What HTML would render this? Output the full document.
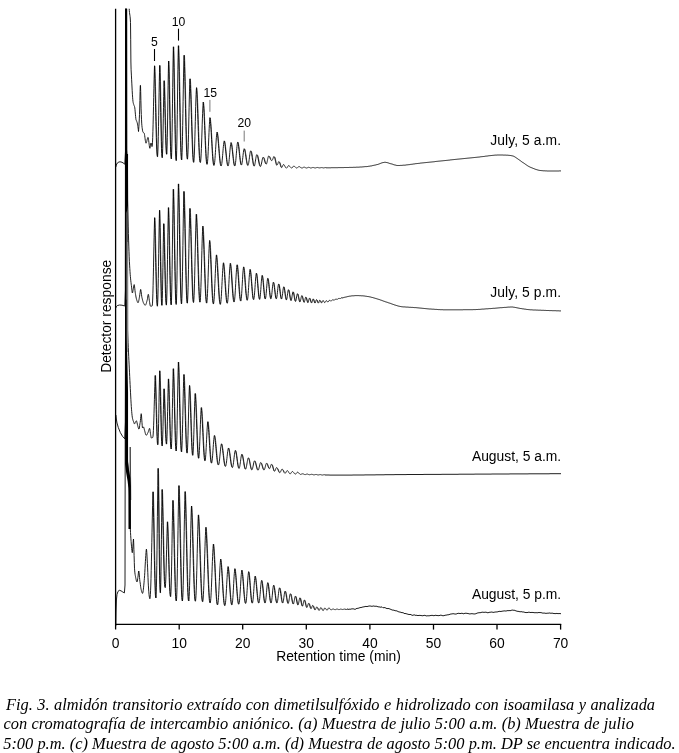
<!DOCTYPE html>
<html><head><meta charset="utf-8"><title>Fig. 3</title>
<style>
html,body{margin:0;padding:0;background:#fff;}
body{width:679px;height:753px;position:relative;overflow:hidden;}
svg{position:absolute;left:0;top:0;will-change:transform;}
.cap{position:absolute;left:0;top:0;width:679px;will-change:transform;font-family:"Liberation Serif",serif;font-style:italic;font-size:16.4px;color:#000;white-space:pre;}
.cap div{position:absolute;line-height:20px;height:20px;}
</style></head><body>
<svg width="679" height="753" viewBox="0 0 679 753">
<defs><clipPath id="c"><rect x="110" y="8.8" width="460" height="625"/></clipPath></defs>
<g clip-path="url(#c)" fill="none" stroke="#000" stroke-width="0.88" stroke-linejoin="round">
<polyline points="115.8,167.0 116.3,165.0 117.3,163.0 119.0,161.9 121.0,161.9 123.0,162.8 124.8,164.2 125.6,150.0 125.7,-30.0 126.6,-30.0 128.9,2.0 129.1,7.1 129.3,10.5 129.5,12.6 129.7,14.0 129.9,15.2 130.1,16.7 130.3,19.0 130.5,22.5 130.7,39.2 130.9,62.0 131.1,69.8 131.4,75.1 131.6,79.2 131.8,83.1 132.0,87.0 132.2,90.7 132.4,94.2 132.6,97.2 132.8,99.7 133.0,101.6 133.2,102.7 133.4,103.5 133.6,104.2 133.8,104.7 134.0,105.3 134.2,105.8 134.4,106.2 134.6,106.8 134.8,107.9 135.0,109.7 135.2,111.9 135.4,114.2 135.6,116.4 135.8,118.3 136.0,119.7 136.3,120.4 136.5,121.0 136.7,121.4 136.9,121.8 137.1,122.4 137.3,123.1 137.5,124.1 137.7,125.2 137.9,126.6 138.1,128.1 138.3,129.7 138.5,131.5 138.5,131.5 138.7,129.4 138.9,126.5 139.1,123.0 139.3,118.9 139.5,114.4 139.7,109.0 139.9,100.5 140.1,91.5 140.3,85.4 140.5,85.4 140.7,91.5 140.9,100.4 141.1,108.9 141.3,114.5 141.5,119.2 141.7,123.1 141.9,125.7 142.1,127.4 142.3,128.9 142.5,130.2 142.7,131.2 142.9,131.9 143.1,132.3 143.3,132.5 143.5,132.6 143.7,132.7 143.9,132.8 144.1,133.0 144.3,133.5 144.5,134.5 144.7,135.7 144.9,137.2 145.1,138.8 145.3,140.3 145.5,141.6 145.7,142.6 145.9,143.1 146.1,143.2 146.3,142.8 146.5,142.3 146.7,141.6 146.9,140.7 147.1,139.9 147.3,139.0 147.5,138.3 147.7,137.8 147.9,137.4 148.1,137.5 148.3,138.1 148.5,139.3 148.7,140.7 148.9,142.4 149.1,144.1 149.3,145.7 149.5,147.1 149.7,148.0 149.9,148.3 150.1,147.8 150.3,146.7 150.5,145.3 150.7,144.0 150.9,143.1 151.1,143.0 151.3,143.4 151.5,144.1 151.7,145.1 151.9,146.5 151.9,146.5 152.1,146.5 152.3,145.2 152.5,142.3 152.7,137.7 152.9,131.6 153.1,124.2 153.3,115.8 153.5,106.7 153.7,97.4 153.9,88.3 154.1,79.8 154.3,72.2 154.5,65.8 154.5,65.9 154.7,71.7 154.9,78.5 155.1,86.3 155.3,94.8 155.5,103.7 155.7,112.7 155.9,121.6 156.1,129.9 156.3,137.4 156.5,143.9 156.7,149.1 156.9,153.0 157.1,155.5 157.3,156.6 157.5,156.7 157.7,155.0 157.9,151.1 158.1,144.9 158.3,136.6 158.5,126.6 158.7,115.5 158.9,103.9 159.1,92.4 159.3,81.8 159.5,72.6 159.7,65.4 159.7,65.6 159.9,72.6 160.1,81.2 160.3,91.0 160.5,101.6 160.7,112.5 160.9,123.1 161.1,133.0 161.3,141.6 161.5,148.5 161.7,153.6 161.9,156.6 162.1,157.7 162.3,157.2 162.5,154.2 162.7,148.5 162.9,140.3 163.1,130.1 163.3,118.8 163.5,107.3 163.7,96.5 163.9,87.4 164.1,80.7 164.1,81.0 164.3,86.4 164.5,93.0 164.7,100.5 164.9,108.7 165.1,117.2 165.3,125.5 165.5,133.3 165.7,140.1 165.9,145.8 166.1,150.1 166.3,152.9 166.5,154.2 166.7,154.2 166.9,151.7 167.1,146.1 167.3,137.4 167.5,126.0 167.7,112.9 167.9,99.0 168.1,85.7 168.3,73.7 168.5,64.1 168.6,61.0 168.7,64.3 168.9,71.2 169.1,79.6 169.3,89.1 169.5,99.3 169.7,110.0 169.9,120.4 170.1,130.3 170.3,139.1 170.5,146.6 170.7,152.3 170.9,156.2 171.1,158.3 171.3,158.9 171.5,157.3 171.7,152.3 171.9,143.9 172.1,132.4 172.3,118.5 172.5,103.2 172.7,87.6 172.9,72.9 173.1,60.1 173.3,49.9 173.4,46.8 173.5,50.6 173.7,58.1 173.9,67.3 174.1,77.9 174.3,89.3 174.5,101.2 174.7,113.1 174.9,124.5 175.1,134.8 175.3,143.7 175.5,150.9 175.7,156.1 175.9,159.3 176.1,160.6 176.3,160.2 176.5,157.1 176.7,150.7 176.9,141.1 177.1,128.7 177.3,114.4 177.5,99.1 177.7,83.9 177.9,69.7 178.1,57.7 178.3,48.3 178.4,45.7 178.5,48.9 178.7,55.2 178.9,62.9 179.1,71.6 179.3,81.3 179.5,91.6 179.7,102.2 179.9,112.7 180.1,122.8 180.3,132.1 180.5,140.3 180.7,147.3 180.9,152.7 181.1,156.7 181.3,159.0 181.5,159.9 181.7,159.5 181.9,157.2 182.1,152.5 182.3,145.4 182.5,136.3 182.7,125.5 182.9,113.6 183.1,101.3 183.3,89.1 183.5,77.8 183.7,68.0 183.9,60.1 184.1,55.2 184.1,55.8 184.3,60.5 184.5,66.4 184.7,73.4 184.9,81.4 185.1,90.1 185.3,99.3 185.5,108.6 185.7,117.8 185.9,126.6 186.1,134.8 186.3,142.0 186.5,148.0 186.7,152.8 186.9,156.2 187.1,158.3 187.3,159.2 187.5,159.0 187.7,157.4 187.9,154.2 188.1,149.2 188.3,142.6 188.5,134.8 188.7,126.0 188.9,116.8 189.1,107.6 189.3,99.0 189.5,91.2 189.7,84.8 189.9,80.0 190.0,78.8 190.1,80.8 190.3,84.3 190.5,88.7 190.7,93.9 190.9,99.7 191.1,106.0 191.3,112.7 191.5,119.5 191.7,126.3 191.9,133.0 192.1,139.2 192.3,145.0 192.5,150.0 192.7,154.3 192.9,157.6 193.1,160.1 193.3,161.6 193.5,162.3 193.7,162.2 193.9,161.2 194.1,158.8 194.3,155.1 194.5,150.0 194.7,143.9 194.9,136.9 195.1,129.4 195.3,121.6 195.5,113.8 195.7,106.6 195.9,100.0 196.1,94.5 196.3,90.1 196.5,87.7 196.5,88.2 196.7,90.8 196.9,94.1 197.1,98.2 197.3,102.9 197.5,108.1 197.7,113.7 197.9,119.6 198.1,125.6 198.3,131.5 198.5,137.2 198.7,142.6 198.9,147.5 199.1,151.9 199.3,155.5 199.5,158.4 199.7,160.5 199.9,161.8 200.2,162.4 200.4,162.4 200.6,161.7 200.8,159.9 201.0,157.0 201.2,153.2 201.4,148.5 201.6,143.0 201.8,137.1 202.0,131.0 202.2,124.8 202.4,118.9 202.6,113.6 202.8,109.0 203.0,105.2 203.2,102.5 203.2,102.1 203.4,103.4 203.6,105.8 203.8,108.7 204.0,112.3 204.2,116.4 204.4,120.9 204.6,125.6 204.8,130.6 205.0,135.6 205.2,140.5 205.4,145.2 205.6,149.5 205.8,153.5 206.0,156.9 206.2,159.7 206.4,161.8 206.6,163.3 206.8,164.1 207.0,164.4 207.2,164.1 207.4,163.1 207.6,161.2 207.8,158.6 208.0,155.2 208.2,151.2 208.4,146.7 208.6,142.0 208.8,137.2 209.0,132.5 209.2,128.2 209.4,124.4 209.6,121.2 209.8,118.9 209.9,117.7 210.0,118.0 210.2,119.4 210.4,121.2 210.6,123.5 210.8,126.2 211.0,129.2 211.2,132.5 211.4,136.0 211.6,139.6 211.8,143.2 212.0,146.8 212.2,150.2 212.4,153.5 212.6,156.4 212.8,159.0 213.0,161.2 213.2,162.9 213.4,164.2 213.6,165.0 213.8,165.4 214.0,165.5 214.2,165.1 214.4,164.2 214.6,162.8 214.8,160.9 215.0,158.5 215.2,155.7 215.4,152.6 215.6,149.4 215.8,146.1 216.0,143.0 216.2,140.0 216.4,137.3 216.6,135.1 216.8,133.4 217.0,132.2 217.0,132.1 217.2,132.7 217.4,133.8 217.6,135.2 217.8,136.9 218.0,138.9 218.2,141.1 218.4,143.4 218.6,145.9 218.8,148.5 219.0,151.1 219.2,153.6 219.4,155.9 219.6,158.2 219.8,160.2 220.0,161.9 220.2,163.4 220.4,164.5 220.6,165.3 220.8,165.8 221.0,166.0 221.2,165.9 221.4,165.5 221.6,164.8 221.8,163.6 222.0,162.0 222.2,160.1 222.4,158.0 222.6,155.7 222.8,153.3 223.0,150.9 223.2,148.5 223.4,146.4 223.6,144.5 223.8,142.9 224.0,141.7 224.2,140.9 224.2,140.9 224.4,141.3 224.6,142.2 224.8,143.3 225.0,144.6 225.2,146.2 225.4,148.0 225.6,149.9 225.8,151.9 226.0,153.9 226.2,155.9 226.4,157.8 226.6,159.6 226.8,161.3 227.0,162.7 227.2,163.9 227.4,164.8 227.6,165.5 227.8,165.9 228.0,166.0 228.2,165.9 228.4,165.4 228.6,164.5 228.8,163.2 229.0,161.5 229.2,159.5 229.4,157.2 229.6,154.9 229.8,152.5 230.0,150.1 230.2,148.0 230.4,146.1 230.6,144.5 230.8,143.4 231.0,142.7 231.0,142.6 231.2,143.1 231.4,143.8 231.6,144.8 231.8,146.1 232.0,147.6 232.2,149.3 232.4,151.1 232.6,153.0 232.8,154.9 233.0,156.8 233.2,158.6 233.4,160.3 233.6,161.8 233.8,163.2 234.0,164.3 234.2,165.1 234.4,165.6 234.6,165.9 234.8,166.0 235.0,165.7 235.2,165.0 235.4,163.9 235.6,162.3 235.8,160.4 236.0,158.1 236.2,155.7 236.4,153.2 236.6,150.7 236.8,148.4 237.0,146.3 237.2,144.6 237.4,143.2 237.6,142.4 237.7,142.1 237.8,142.2 238.0,142.8 238.2,143.7 238.4,144.9 238.6,146.4 238.8,148.0 239.0,149.8 239.2,151.7 239.4,153.6 239.6,155.6 239.8,157.4 240.0,159.2 240.2,160.7 240.4,162.1 240.6,163.2 240.8,164.1 241.0,164.7 241.2,164.9 241.4,165.0 241.6,164.8 241.8,164.3 242.0,163.4 242.2,162.2 242.4,160.8 242.6,159.2 242.8,157.5 243.0,155.7 243.2,154.0 243.4,152.4 243.6,151.0 243.8,149.9 244.0,149.2 244.2,148.7 244.2,148.7 244.4,149.0 244.6,149.5 244.8,150.2 245.0,151.2 245.2,152.3 245.4,153.5 245.6,154.8 245.8,156.2 246.0,157.7 246.2,159.1 246.4,160.4 246.6,161.6 246.8,162.8 247.0,163.7 247.2,164.4 247.4,165.0 247.6,165.3 247.8,165.5 248.0,165.4 248.2,165.1 248.4,164.4 248.6,163.5 248.8,162.3 249.0,160.9 249.2,159.4 249.4,157.8 249.6,156.2 249.8,154.7 250.0,153.3 250.2,152.2 250.4,151.4 250.6,150.9 250.7,150.8 250.8,150.9 251.0,151.3 251.2,151.9 251.4,152.7 251.6,153.7 251.8,154.9 252.0,156.2 252.2,157.6 252.4,159.0 252.6,160.4 252.8,161.7 253.0,162.9 253.2,163.9 253.4,164.7 253.6,165.4 253.8,165.8 254.0,166.1 254.2,166.1 254.4,165.9 254.6,165.4 254.8,164.6 255.0,163.6 255.2,162.5 255.4,161.2 255.6,159.9 255.8,158.5 256.0,157.3 256.2,156.3 256.4,155.4 256.6,154.9 256.8,154.6 256.8,154.6 257.0,154.8 257.2,155.1 257.4,155.7 257.6,156.3 257.8,157.1 258.0,158.1 258.2,159.0 258.4,160.0 258.6,161.1 258.8,162.1 259.0,163.1 259.2,164.0 259.4,164.7 259.6,165.4 259.8,165.9 260.0,166.3 260.2,166.4 260.4,166.5 260.6,166.4 260.8,166.1 261.0,165.5 261.2,164.8 261.4,164.0 261.6,163.0 261.8,161.9 262.0,160.9 262.2,159.9 262.4,159.0 262.6,158.2 262.8,157.7 263.0,157.3 263.2,157.1 263.2,157.1 263.4,157.3 263.6,157.6 263.8,158.1 264.0,158.6 264.2,159.3 264.4,160.0 264.6,160.8 264.8,161.5 265.0,162.2 265.2,162.8 265.4,163.3 265.6,163.7 265.8,163.9 266.0,164.1 266.2,164.1 266.4,164.0 266.6,163.6 266.8,163.1 267.0,162.3 267.2,161.5 267.4,160.5 267.6,159.5 267.8,158.5 268.0,157.7 268.2,156.9 268.4,156.4 268.6,156.0 268.8,155.9 268.8,155.9 269.0,156.0 269.2,156.3 269.4,156.6 269.6,157.1 269.8,157.5 270.0,158.0 270.2,158.5 270.4,159.0 270.6,159.4 270.8,159.8 271.0,160.1 271.2,160.3 271.4,160.5 271.6,160.6 271.8,160.6 272.0,160.5 272.2,160.3 272.4,160.0 272.6,159.6 272.8,159.1 273.0,158.5 273.2,158.0 273.4,157.4 273.6,157.0 273.8,156.6 274.0,156.5 274.0,156.5 274.2,156.7 274.4,157.0 274.6,157.5 274.8,158.1 275.0,158.9 275.2,159.8 275.4,160.8 275.6,161.7 275.8,162.7 276.0,163.5 276.2,164.2 276.4,164.7 276.6,165.1 276.8,165.2 277.0,165.2 277.2,165.0 277.4,164.7 277.6,164.3 277.8,163.8 278.0,163.3 278.2,162.7 278.4,162.2 278.6,161.8 278.8,161.6 278.9,161.6 279.0,161.6 279.2,161.9 279.4,162.2 279.6,162.7 279.8,163.2 280.0,163.9 280.2,164.6 280.4,165.3 280.6,165.9 280.8,166.5 281.0,167.0 281.2,167.3 281.4,167.5 281.6,167.6 281.8,167.5 282.0,167.2 282.2,166.9 282.4,166.5 282.6,166.0 282.8,165.6 283.0,165.1 283.2,164.8 283.4,164.6 283.6,164.5 283.6,164.5 283.8,164.6 284.0,164.7 284.2,165.0 284.4,165.3 284.6,165.6 284.8,166.0 285.0,166.4 285.2,166.8 285.4,167.1 285.6,167.5 285.8,167.7 286.0,167.9 286.2,168.1 286.4,168.1 286.6,168.1 286.8,167.9 287.0,167.7 287.2,167.5 287.4,167.1 287.6,166.8 287.8,166.5 288.0,166.1 288.2,165.9 288.4,165.7 288.6,165.6 288.7,165.6 288.8,165.6 289.0,165.7 289.2,165.8 289.4,166.0 289.6,166.2 289.8,166.5 290.0,166.7 290.2,167.0 290.4,167.2 290.6,167.4 290.8,167.6 291.0,167.8 291.2,167.9 291.4,168.0 291.6,168.0 291.8,168.0 292.0,167.8 292.2,167.7 292.4,167.5 292.6,167.2 292.8,167.0 293.0,166.7 293.2,166.5 293.4,166.3 293.6,166.2 293.8,166.1 293.9,166.1 294.0,166.1 294.2,166.2 294.4,166.3 294.6,166.4 294.8,166.6 295.0,166.8 295.2,167.0 295.4,167.2 295.6,167.4 295.8,167.6 296.0,167.7 296.3,167.9 296.5,168.0 296.7,168.0 296.9,168.0 297.1,167.9 297.3,167.8 297.5,167.7 297.7,167.5 297.9,167.3 298.1,167.2 298.3,167.0 298.5,166.8 298.7,166.7 298.9,166.6 299.0,166.6 299.1,166.6 299.3,166.6 299.5,166.7 299.7,166.8 299.9,166.9 300.1,167.0 300.3,167.2 300.5,167.3 300.7,167.5 300.9,167.6 301.1,167.8 301.3,167.9 301.5,167.9 301.7,168.0 301.9,168.0 301.9,168.0 302.1,168.0 302.3,167.9 302.5,167.9 302.7,167.8 302.9,167.7 303.1,167.5 303.3,167.4 303.5,167.3 303.7,167.3 303.9,167.2 304.1,167.2 304.3,167.2 304.5,167.2 304.7,167.3 304.9,167.4 305.1,167.5 305.3,167.6 305.5,167.7 305.7,167.8 305.9,167.9 306.1,168.0 306.3,168.0 306.5,168.0 306.7,168.0 306.9,167.9 307.1,167.9 307.3,167.8 307.5,167.7 307.7,167.6 307.9,167.5 308.1,167.4 308.3,167.4 308.5,167.3 308.7,167.3 308.9,167.4 309.1,167.4 309.3,167.5 309.5,167.5 309.7,167.6 309.9,167.7 310.1,167.8 310.3,167.9 310.5,167.9 310.7,168.0 310.9,168.0 311.1,168.0 311.3,167.9 311.5,167.9 311.7,167.8 311.9,167.7 312.1,167.6 312.3,167.6 312.5,167.5 312.7,167.5 312.9,167.4 313.1,167.4 313.3,167.5 313.5,167.5 313.7,167.6 313.9,167.6 314.1,167.7 314.3,167.8 314.5,167.8 314.7,167.9 314.9,167.9 315.1,168.0 315.3,168.0 315.5,167.9 315.7,167.9 315.9,167.8 316.1,167.8 316.3,167.7 316.5,167.6 316.7,167.6 316.9,167.5 317.1,167.5 317.3,167.5 317.5,167.5 317.8,167.5 318.0,167.6 318.2,167.6 318.4,167.7 318.6,167.8 318.8,167.8 319.0,167.9 319.2,167.9 319.4,167.9 319.6,167.9 319.8,167.9 320.0,167.9 320.2,167.8 320.4,167.8 320.6,167.7 320.8,167.7 321.0,167.6 321.2,167.6 321.4,167.6 321.6,167.6 321.8,167.6 322.0,167.6 322.2,167.6 322.4,167.7 322.6,167.7 322.8,167.8 323.0,167.8 323.2,167.9 323.4,167.9 323.6,167.9 323.8,167.9 324.0,167.9 324.2,167.8 324.4,167.8 324.6,167.7 324.8,167.7 325.0,167.6 325.2,167.6 325.4,167.6 325.6,167.6 325.8,167.6 326.0,167.6 326.0,167.8 326.5,167.8 327.0,167.8 327.5,167.8 328.0,167.8 328.5,167.8 329.0,167.8 329.5,167.8 330.0,167.8 330.5,167.8 331.0,167.7 331.5,167.7 332.0,167.7 332.5,167.7 333.0,167.7 333.5,167.7 334.0,167.7 334.5,167.7 335.0,167.7 335.5,167.7 336.0,167.7 336.5,167.7 337.0,167.7 337.5,167.7 338.0,167.6 338.5,167.6 339.0,167.6 339.5,167.6 340.0,167.6 340.5,167.6 341.0,167.6 341.5,167.6 342.0,167.6 342.5,167.6 343.0,167.6 343.5,167.6 344.0,167.6 344.5,167.5 345.0,167.5 345.5,167.5 346.0,167.5 346.5,167.5 347.0,167.5 347.5,167.5 348.0,167.5 348.5,167.5 349.0,167.5 349.5,167.4 350.0,167.4 350.5,167.4 351.0,167.4 351.5,167.4 352.0,167.4 352.5,167.4 353.0,167.4 353.5,167.3 354.0,167.3 354.5,167.3 355.0,167.3 355.5,167.3 356.0,167.3 356.5,167.2 357.0,167.2 357.5,167.2 358.0,167.2 358.5,167.2 359.0,167.1 359.5,167.1 360.0,167.1 360.5,167.0 361.0,167.0 361.5,167.0 362.0,166.9 362.5,166.9 363.0,166.9 363.5,166.8 364.0,166.8 364.5,166.7 365.0,166.7 365.5,166.6 366.0,166.6 366.5,166.6 367.0,166.5 367.5,166.5 368.0,166.4 368.5,166.3 369.0,166.3 369.5,166.2 370.0,166.1 370.5,166.0 371.0,165.9 371.5,165.9 372.0,165.8 372.5,165.6 373.0,165.5 373.5,165.4 374.0,165.3 374.5,165.2 375.0,165.1 375.5,165.0 376.0,164.8 376.5,164.7 377.0,164.6 377.5,164.5 378.0,164.3 378.5,164.2 379.0,164.0 379.5,163.8 380.0,163.6 380.5,163.4 381.0,163.2 381.5,163.0 382.0,162.9 382.5,162.7 383.0,162.6 383.5,162.5 384.0,162.4 384.5,162.3 385.0,162.3 385.5,162.3 386.0,162.4 386.5,162.5 387.0,162.6 387.5,162.7 388.0,162.9 388.5,163.0 389.0,163.2 389.5,163.4 390.0,163.5 390.5,163.7 391.0,163.8 391.5,163.9 392.0,164.1 392.5,164.2 393.0,164.4 393.5,164.6 394.0,164.7 394.5,164.9 395.0,165.0 395.5,165.1 396.0,165.3 396.5,165.4 397.0,165.4 397.5,165.5 398.0,165.5 398.5,165.5 399.0,165.5 399.5,165.5 400.0,165.5 400.5,165.4 401.0,165.4 401.5,165.4 402.0,165.4 402.5,165.3 403.0,165.3 403.5,165.2 404.0,165.2 404.5,165.2 405.0,165.1 405.5,165.1 406.0,165.0 406.5,164.9 407.0,164.9 407.5,164.8 408.0,164.8 408.5,164.7 409.0,164.6 409.5,164.6 410.0,164.5 410.5,164.4 411.0,164.4 411.5,164.3 412.0,164.2 412.5,164.2 413.0,164.1 413.5,164.0 414.0,164.0 414.5,163.9 415.0,163.8 415.5,163.7 416.0,163.7 416.5,163.6 417.0,163.6 417.5,163.5 418.0,163.4 418.5,163.4 419.0,163.3 419.5,163.3 420.0,163.2 420.5,163.1 421.0,163.1 421.5,163.0 422.0,163.0 422.5,162.9 423.0,162.9 423.5,162.8 424.0,162.8 424.5,162.7 425.0,162.7 425.5,162.6 426.0,162.6 426.5,162.5 427.0,162.5 427.5,162.4 428.0,162.3 428.5,162.3 429.0,162.2 429.5,162.2 430.0,162.1 430.5,162.1 431.0,162.0 431.5,162.0 432.0,161.9 432.5,161.9 433.0,161.8 433.5,161.8 434.0,161.7 434.5,161.7 435.0,161.6 435.5,161.5 436.0,161.5 436.5,161.4 437.0,161.4 437.5,161.3 438.0,161.3 438.5,161.2 439.0,161.2 439.5,161.1 440.0,161.1 440.5,161.0 441.0,161.0 441.5,160.9 442.0,160.8 442.5,160.8 443.0,160.7 443.5,160.7 444.0,160.6 444.5,160.6 445.0,160.5 445.5,160.5 446.0,160.4 446.5,160.4 447.0,160.3 447.5,160.3 448.0,160.2 448.5,160.2 449.0,160.1 449.5,160.1 450.0,160.0 450.5,159.9 451.0,159.9 451.5,159.8 452.0,159.8 452.5,159.7 453.0,159.7 453.5,159.6 454.0,159.6 454.5,159.5 455.0,159.5 455.5,159.4 456.0,159.4 456.5,159.3 457.0,159.3 457.5,159.2 458.0,159.2 458.5,159.1 459.0,159.1 459.5,159.0 460.0,159.0 460.5,158.9 461.0,158.9 461.5,158.8 462.0,158.7 462.5,158.7 463.0,158.6 463.5,158.6 464.0,158.5 464.5,158.5 465.0,158.4 465.5,158.4 466.0,158.3 466.5,158.3 467.0,158.2 467.5,158.2 468.0,158.1 468.5,158.1 469.0,158.0 469.5,158.0 470.0,157.9 470.5,157.9 471.0,157.8 471.5,157.8 472.0,157.7 472.5,157.7 473.0,157.6 473.5,157.6 474.0,157.5 474.5,157.5 475.0,157.4 475.5,157.4 476.0,157.3 476.5,157.3 477.0,157.2 477.5,157.2 478.0,157.1 478.5,157.1 479.0,157.0 479.5,157.0 480.0,156.9 480.5,156.8 481.0,156.8 481.5,156.7 482.0,156.7 482.5,156.6 483.0,156.6 483.5,156.5 484.0,156.4 484.5,156.4 485.0,156.3 485.5,156.2 486.0,156.2 486.5,156.1 487.0,156.0 487.5,156.0 488.0,155.9 488.5,155.8 489.0,155.8 489.5,155.7 490.0,155.6 490.5,155.6 491.0,155.5 491.5,155.5 492.0,155.4 492.5,155.4 493.0,155.3 493.5,155.3 494.0,155.2 494.5,155.2 495.0,155.1 495.5,155.1 496.0,155.1 496.5,155.1 497.0,155.0 497.5,155.0 498.0,155.0 498.5,155.0 499.0,155.0 499.5,155.0 500.0,155.0 500.5,155.0 501.0,155.0 501.5,155.0 502.0,155.0 502.5,155.0 503.0,155.1 503.5,155.1 504.0,155.1 504.5,155.1 505.0,155.1 505.5,155.1 506.0,155.2 506.5,155.2 507.0,155.2 507.5,155.2 508.0,155.3 508.5,155.3 509.0,155.3 509.5,155.4 510.0,155.5 510.5,155.5 511.0,155.6 511.5,155.7 512.0,155.8 512.5,155.9 513.0,156.0 513.5,156.2 514.0,156.4 514.5,156.7 515.0,157.0 515.5,157.3 516.0,157.7 516.5,158.0 517.0,158.3 517.5,158.7 518.0,159.0 518.5,159.4 519.0,159.7 519.5,160.1 520.0,160.5 520.5,160.8 521.0,161.2 521.5,161.6 522.0,161.9 522.5,162.3 523.0,162.6 523.5,162.9 524.0,163.3 524.5,163.6 525.0,164.0 525.5,164.3 526.0,164.7 526.5,165.0 527.0,165.3 527.5,165.7 528.0,166.0 528.5,166.3 529.0,166.6 529.5,166.8 530.0,167.1 530.5,167.3 531.0,167.5 531.5,167.7 532.0,167.9 532.5,168.1 533.0,168.3 533.5,168.5 534.0,168.7 534.5,168.9 535.0,169.1 535.5,169.3 536.0,169.4 536.5,169.6 537.0,169.8 537.5,169.9 538.0,170.0 538.5,170.2 539.0,170.3 539.5,170.4 540.0,170.4 540.5,170.5 541.0,170.6 541.5,170.6 542.0,170.7 542.5,170.7 543.0,170.7 543.5,170.8 544.0,170.8 544.5,170.8 545.0,170.9 545.5,170.9 546.0,170.9 546.5,170.9 547.0,170.9 547.5,171.0 548.0,171.0 548.5,171.0 549.0,171.0 549.5,171.0 550.0,171.0 550.5,171.0 551.0,171.0 551.5,171.0 552.0,171.0 552.5,171.0 553.0,171.0 553.5,171.0 554.0,171.0 554.5,171.0 555.0,171.0 555.5,171.0 556.0,171.0 556.5,171.0 557.0,171.0 557.5,171.0 558.0,171.0 558.5,171.0 559.0,170.9 559.5,170.9 560.0,170.9 560.5,170.9 561.0,170.9"/>
<polyline points="115.8,308.0 116.2,306.8 117.3,305.6 119.5,305.0 122.0,305.2 124.8,306.0 125.3,290.0 125.6,-30.0 126.6,-30.0 126.7,150.0 127.5,170.0 127.6,200.0 127.6,200.0 127.8,209.3 128.0,218.0 128.2,226.1 128.4,233.5 128.6,240.1 128.8,246.1 129.0,251.7 129.2,256.8 129.4,261.3 129.6,265.1 129.8,268.5 130.0,271.6 130.2,274.3 130.4,276.7 130.6,278.9 130.8,280.8 131.0,282.5 131.2,284.1 131.4,285.6 131.6,287.1 131.8,289.0 132.0,290.9 132.2,292.5 132.4,293.0 132.6,292.6 132.8,291.7 133.0,290.5 133.2,289.4 133.4,288.3 133.6,287.1 133.8,285.8 134.0,284.9 134.2,284.6 134.4,285.3 134.6,286.9 134.8,288.8 135.0,290.7 135.2,292.2 135.4,293.5 135.6,294.7 135.8,295.9 136.0,297.0 136.2,298.0 136.4,298.8 136.6,299.5 136.8,300.1 137.0,300.8 137.2,301.3 137.4,301.9 137.6,302.3 137.8,302.6 138.0,302.7 138.2,302.6 138.4,302.2 138.6,301.5 138.8,300.6 139.0,299.6 139.2,298.5 139.4,297.3 139.6,296.2 139.8,294.6 140.1,292.7 140.3,291.0 140.5,289.7 140.7,289.4 140.9,290.1 141.1,291.4 141.3,293.0 141.5,294.7 141.7,296.2 141.9,297.3 142.1,298.2 142.3,299.0 142.5,299.8 142.7,300.6 142.9,301.3 143.1,301.9 143.3,302.5 143.5,302.9 143.7,303.3 143.9,303.7 144.1,304.1 144.3,304.4 144.5,304.7 144.7,305.0 144.9,305.2 145.1,305.3 145.3,305.3 145.5,305.1 145.7,304.9 145.9,304.4 146.1,303.9 146.3,303.3 146.5,302.6 146.7,301.9 146.9,301.2 147.1,300.4 147.3,299.7 147.5,298.5 147.7,297.1 147.9,295.8 148.1,294.8 148.3,294.3 148.5,294.7 148.7,295.7 148.9,297.2 149.1,298.8 149.3,300.3 149.5,301.5 149.7,302.7 149.9,304.0 150.1,305.1 150.3,305.9 150.5,306.2 150.7,306.2 150.9,306.2 151.1,306.2 151.3,306.2 151.5,306.2 151.7,306.1 151.9,306.1 152.1,306.0 152.1,306.0 152.3,305.4 152.5,303.1 152.7,299.0 152.9,293.2 153.1,285.7 153.3,276.9 153.5,267.2 153.7,257.0 153.9,246.9 154.1,237.2 154.3,228.4 154.5,220.9 154.6,217.7 154.7,220.7 154.9,227.5 155.1,235.3 155.3,243.9 155.5,253.1 155.7,262.4 155.9,271.5 156.1,280.1 156.3,287.8 156.5,294.4 156.7,299.5 156.9,303.2 157.1,305.4 157.3,306.2 157.5,305.6 157.7,302.7 157.9,297.0 158.1,288.8 158.3,278.4 158.5,266.5 158.7,253.7 158.9,240.9 159.1,229.0 159.3,218.5 159.5,210.2 159.5,210.4 159.7,218.1 159.9,227.5 160.1,238.2 160.3,249.7 160.5,261.5 160.7,272.8 160.9,283.1 161.1,291.7 161.3,298.4 161.5,302.9 161.7,305.1 161.9,305.4 162.1,303.5 162.3,298.5 162.5,290.4 162.7,279.8 162.9,267.5 163.1,254.6 163.3,242.4 163.5,231.7 163.7,223.7 163.7,223.8 163.9,229.5 164.1,236.3 164.3,244.2 164.5,252.8 164.7,261.8 164.9,270.7 165.1,279.2 165.3,286.9 165.5,293.5 165.7,298.7 165.9,302.3 166.1,304.4 166.3,305.1 166.5,304.3 166.7,300.7 166.9,294.0 167.1,284.5 167.3,272.8 167.5,259.5 167.7,245.8 167.9,232.6 168.1,220.8 168.3,211.2 168.4,207.6 168.5,210.8 168.7,217.7 168.9,226.0 169.1,235.3 169.3,245.3 169.5,255.7 169.7,265.9 169.9,275.5 170.1,284.2 170.3,291.6 170.5,297.4 170.7,301.6 170.9,304.0 171.1,304.8 171.3,304.0 171.5,300.2 171.7,293.0 171.9,282.6 172.1,269.6 172.3,254.8 172.5,239.1 172.7,223.8 172.9,209.7 173.1,197.8 173.3,189.2 173.3,189.5 173.5,196.3 173.7,204.8 173.9,214.6 174.1,225.5 174.3,237.1 174.5,248.9 174.7,260.5 174.9,271.4 175.1,281.2 175.3,289.5 175.5,296.0 175.7,300.7 175.9,303.4 176.1,304.4 176.3,303.7 176.5,300.1 176.7,293.3 176.9,283.3 177.1,270.7 177.3,256.1 177.5,240.4 177.7,224.8 177.9,210.2 178.1,197.5 178.3,187.4 178.4,183.9 178.5,187.3 178.7,194.3 178.9,202.9 179.1,212.6 179.3,223.3 179.5,234.5 179.7,246.0 179.9,257.2 180.1,267.9 180.3,277.6 180.5,286.0 180.7,293.0 180.9,298.2 181.1,301.7 181.3,303.5 181.5,303.9 181.7,302.5 181.9,298.6 182.1,292.0 182.3,282.9 182.5,271.7 182.7,259.0 182.9,245.4 183.1,231.8 183.3,218.9 183.5,207.5 183.7,198.0 183.9,191.4 183.9,191.8 184.1,196.9 184.3,203.3 184.5,210.8 184.7,219.2 184.9,228.4 185.1,238.0 185.3,247.9 185.5,257.6 185.7,266.9 185.9,275.5 186.1,283.3 186.3,289.9 186.5,295.2 186.7,299.2 186.9,301.8 187.1,303.0 187.3,303.2 187.5,302.0 187.7,299.0 187.9,294.1 188.1,287.3 188.3,279.0 188.5,269.4 188.7,259.1 188.9,248.5 189.1,238.1 189.3,228.5 189.5,220.1 189.7,213.2 189.9,208.4 189.9,208.8 190.1,212.6 190.3,217.4 190.5,223.1 190.7,229.6 190.9,236.6 191.1,244.1 191.3,251.9 191.5,259.6 191.7,267.2 191.9,274.4 192.1,281.1 192.3,287.0 192.5,292.1 192.7,296.2 192.9,299.2 193.1,301.3 193.3,302.3 193.5,302.5 193.7,301.7 193.9,299.4 194.1,295.5 194.3,290.0 194.5,283.2 194.7,275.2 194.9,266.4 195.1,257.2 195.3,247.9 195.5,239.0 195.7,230.8 195.9,223.8 196.1,218.0 196.3,214.2 196.3,214.5 196.5,217.9 196.7,222.2 196.9,227.3 197.1,233.2 197.3,239.6 197.5,246.5 197.7,253.6 197.9,260.8 198.1,267.8 198.3,274.6 198.5,280.9 198.7,286.5 198.9,291.4 199.1,295.4 199.3,298.5 199.5,300.7 199.7,301.9 199.9,302.2 200.1,301.9 200.3,300.3 200.5,297.4 200.7,293.1 200.9,287.6 201.1,281.1 201.3,273.8 201.5,266.0 201.7,258.1 201.9,250.4 202.1,243.2 202.3,236.8 202.5,231.5 202.7,227.4 202.8,226.2 202.9,227.8 203.1,230.8 203.3,234.6 203.5,239.0 203.7,244.0 203.9,249.5 204.1,255.3 204.3,261.2 204.5,267.2 204.7,273.2 204.9,278.8 205.1,284.1 205.3,288.9 205.5,293.1 205.7,296.6 205.9,299.4 206.1,301.3 206.3,302.6 206.5,303.1 206.7,303.0 206.9,302.2 207.1,300.3 207.3,297.4 207.5,293.5 207.7,288.7 207.9,283.2 208.1,277.3 208.3,271.0 208.5,264.8 208.7,258.8 208.9,253.2 209.1,248.3 209.3,244.3 209.5,241.3 209.6,240.5 209.7,241.7 209.9,244.2 210.1,247.2 210.3,250.8 210.5,254.9 210.7,259.4 210.9,264.1 211.1,269.1 211.3,274.1 211.5,279.0 211.7,283.7 211.9,288.1 212.1,292.1 212.3,295.6 212.5,298.5 212.7,300.8 212.9,302.4 213.1,303.4 213.3,303.9 213.5,303.8 213.7,303.1 213.9,301.6 214.1,299.3 214.3,296.2 214.5,292.4 214.7,288.1 214.9,283.4 215.1,278.5 215.3,273.6 215.5,268.9 215.7,264.6 215.9,260.8 216.1,257.8 216.3,255.5 216.4,254.9 216.5,255.8 216.7,257.6 216.9,259.9 217.1,262.5 217.3,265.6 217.5,268.9 217.7,272.5 217.9,276.2 218.1,280.0 218.3,283.8 218.5,287.4 218.7,290.9 218.9,294.1 219.1,296.9 219.3,299.3 219.5,301.2 219.7,302.7 219.9,303.7 220.1,304.2 220.3,304.4 220.5,304.1 220.7,303.2 220.9,301.6 221.1,299.4 221.3,296.6 221.5,293.2 221.7,289.5 221.9,285.6 222.1,281.5 222.3,277.5 222.5,273.7 222.7,270.3 222.9,267.3 223.1,264.9 223.3,263.2 223.4,262.8 223.5,263.5 223.7,265.0 223.9,266.8 224.1,269.1 224.3,271.6 224.5,274.4 224.7,277.4 224.9,280.5 225.1,283.7 225.3,286.8 225.5,289.9 225.7,292.7 225.9,295.3 226.1,297.6 226.3,299.5 226.5,301.0 226.7,302.2 226.9,302.9 227.1,303.2 227.3,303.2 227.5,302.7 227.7,301.6 227.9,299.8 228.1,297.4 228.3,294.4 228.5,291.0 228.7,287.2 228.9,283.3 229.1,279.3 229.3,275.5 229.5,272.0 229.7,268.9 229.9,266.3 230.1,264.4 230.3,263.3 230.3,263.5 230.5,264.7 230.7,266.2 230.9,268.2 231.1,270.5 231.3,273.1 231.5,276.0 231.7,279.0 231.9,282.0 232.1,285.1 232.3,288.1 232.5,291.0 232.7,293.6 232.9,295.9 233.1,297.9 233.3,299.6 233.5,300.8 233.7,301.6 233.9,302.0 234.1,302.0 234.3,301.6 234.5,300.7 234.7,299.1 234.9,296.8 235.1,294.0 235.3,290.8 235.5,287.2 235.7,283.5 235.9,279.7 236.1,276.1 236.3,272.8 236.5,269.8 236.7,267.5 236.9,265.7 237.1,264.8 237.1,265.0 237.3,266.0 237.5,267.6 237.7,269.5 237.9,271.8 238.1,274.4 238.3,277.2 238.5,280.2 238.7,283.2 238.9,286.3 239.1,289.2 239.3,291.9 239.5,294.3 239.7,296.5 239.9,298.2 240.1,299.5 240.3,300.4 240.5,300.9 240.7,301.1 240.9,300.8 241.1,299.9 241.3,298.3 241.5,296.1 241.7,293.4 241.9,290.2 242.1,286.7 242.3,283.1 242.5,279.5 242.7,276.1 242.9,273.0 243.1,270.5 243.3,268.5 243.5,267.2 243.6,266.9 243.7,267.5 243.9,268.7 244.1,270.3 244.3,272.3 244.5,274.6 244.7,277.1 244.9,279.9 245.1,282.7 245.3,285.5 245.5,288.3 245.7,290.9 245.9,293.3 246.2,295.5 246.4,297.2 246.6,298.6 246.8,299.6 247.0,300.1 247.2,300.3 247.4,300.1 247.6,299.4 247.8,298.0 248.0,296.1 248.2,293.6 248.4,290.7 248.6,287.5 248.8,284.1 249.0,280.8 249.2,277.6 249.4,274.8 249.6,272.5 249.8,270.7 250.0,269.6 250.0,269.4 250.2,269.9 250.4,271.0 250.6,272.4 250.8,274.2 251.0,276.3 251.2,278.7 251.4,281.2 251.6,283.8 251.8,286.5 252.0,289.0 252.2,291.4 252.4,293.6 252.6,295.5 252.8,297.1 253.0,298.3 253.2,299.1 253.4,299.5 253.6,299.6 253.8,299.4 254.0,298.5 254.2,297.2 254.4,295.3 254.6,292.9 254.8,290.3 255.0,287.4 255.2,284.5 255.4,281.6 255.6,279.0 255.8,276.8 256.0,275.0 256.2,273.8 256.3,273.2 256.4,273.4 256.6,274.1 256.8,275.3 257.0,276.9 257.2,278.8 257.4,281.0 257.6,283.4 257.8,285.9 258.0,288.3 258.2,290.7 258.4,292.9 258.6,294.9 258.8,296.6 259.0,297.8 259.2,298.7 259.4,299.2 259.6,299.4 259.8,299.1 260.0,298.2 260.2,296.8 260.4,294.8 260.6,292.3 260.8,289.6 261.0,286.7 261.2,283.8 261.4,281.2 261.6,278.9 261.8,277.1 262.0,275.8 262.1,275.4 262.2,275.5 262.4,276.2 262.6,277.3 262.8,278.8 263.0,280.6 263.2,282.7 263.4,284.9 263.6,287.3 263.8,289.6 264.0,291.8 264.2,293.8 264.4,295.6 264.6,297.0 264.8,298.0 265.0,298.7 265.2,299.0 265.4,298.9 265.6,298.3 265.8,297.2 266.0,295.5 266.2,293.4 266.4,291.0 266.6,288.4 266.8,285.9 267.0,283.5 267.2,281.4 267.4,279.8 267.6,278.7 267.7,278.3 267.8,278.4 268.0,279.0 268.2,279.9 268.4,281.2 268.6,282.8 268.8,284.6 269.0,286.5 269.2,288.5 269.4,290.5 269.6,292.5 269.8,294.2 270.0,295.8 270.2,297.0 270.4,297.9 270.6,298.5 270.8,298.8 271.0,298.7 271.2,298.3 271.4,297.3 271.6,296.0 271.8,294.3 272.0,292.3 272.2,290.2 272.4,288.1 272.6,286.2 272.8,284.5 273.0,283.3 273.2,282.4 273.3,282.2 273.4,282.3 273.6,282.7 273.8,283.5 274.0,284.7 274.2,286.0 274.4,287.6 274.6,289.3 274.8,291.1 275.0,292.8 275.2,294.4 275.4,295.8 275.6,297.0 275.8,297.9 276.0,298.5 276.2,298.8 276.4,298.8 276.6,298.3 276.8,297.5 277.0,296.2 277.2,294.6 277.4,292.7 277.6,290.7 277.8,288.8 278.0,287.0 278.2,285.6 278.4,284.6 278.6,284.0 278.6,284.0 278.8,284.2 279.0,284.9 279.2,285.8 279.4,287.0 279.6,288.4 279.8,290.0 280.0,291.6 280.2,293.2 280.4,294.8 280.6,296.1 280.8,297.3 281.0,298.2 281.2,298.7 281.4,299.0 281.6,299.0 281.8,298.6 282.0,297.8 282.2,296.7 282.4,295.2 282.6,293.6 282.8,291.9 283.0,290.2 283.2,288.8 283.4,287.7 283.6,287.0 283.7,286.8 283.8,286.9 284.0,287.3 284.2,288.1 284.4,289.1 284.6,290.4 284.8,291.9 285.0,293.4 285.2,294.9 285.4,296.3 285.6,297.6 285.8,298.6 286.0,299.3 286.2,299.8 286.4,299.9 286.6,299.6 286.8,299.0 287.0,298.0 287.2,296.7 287.4,295.2 287.6,293.7 287.8,292.2 288.0,291.0 288.2,290.2 288.4,289.7 288.4,289.7 288.6,289.9 288.8,290.4 289.0,291.2 289.2,292.2 289.4,293.4 289.6,294.7 289.8,296.0 290.0,297.2 290.2,298.3 290.4,299.3 290.6,300.0 290.8,300.4 291.0,300.6 291.2,300.4 291.4,299.9 291.6,299.1 291.8,298.0 292.0,296.7 292.2,295.3 292.4,294.1 292.6,293.0 292.8,292.2 293.0,291.8 293.0,291.8 293.2,292.0 293.4,292.5 293.6,293.2 293.8,294.2 294.0,295.3 294.2,296.5 294.4,297.7 294.6,298.8 294.8,299.8 295.0,300.6 295.2,301.1 295.4,301.4 295.6,301.4 295.8,301.1 296.0,300.4 296.2,299.4 296.4,298.2 296.6,297.0 296.8,295.8 297.0,294.8 297.2,294.1 297.4,293.7 297.4,293.7 297.6,293.9 297.8,294.3 298.0,294.9 298.2,295.8 298.4,296.7 298.6,297.7 298.8,298.8 299.0,299.7 299.2,300.6 299.4,301.2 299.6,301.7 299.8,301.9 300.0,301.9 300.2,301.6 300.4,301.0 300.6,300.2 300.8,299.3 301.0,298.3 301.2,297.3 301.4,296.5 301.6,295.9 301.8,295.6 301.8,295.6 302.0,295.8 302.2,296.2 302.4,296.8 302.6,297.6 302.8,298.5 303.0,299.4 303.2,300.3 303.4,301.1 303.6,301.7 303.8,302.1 304.0,302.3 304.2,302.3 304.4,301.9 304.6,301.3 304.8,300.5 305.0,299.6 305.2,298.7 305.4,297.9 305.6,297.4 305.8,297.1 305.8,297.1 306.0,297.2 306.2,297.6 306.4,298.2 306.6,299.0 306.8,299.8 307.0,300.6 307.2,301.3 307.4,301.9 307.6,302.4 307.8,302.6 308.0,302.6 308.2,302.3 308.4,301.7 308.6,300.9 308.8,300.1 309.0,299.3 309.2,298.6 309.4,298.2 309.5,298.1 309.6,298.1 309.8,298.4 310.0,298.8 310.2,299.4 310.4,300.1 310.6,300.9 310.8,301.6 311.0,302.2 311.2,302.6 311.4,302.9 311.6,302.9 311.8,302.7 312.0,302.2 312.2,301.5 312.4,300.7 312.6,300.0 312.8,299.4 313.0,299.0 313.1,298.9 313.2,298.9 313.4,299.2 313.6,299.6 313.8,300.2 314.0,300.9 314.2,301.5 314.4,302.2 314.6,302.7 314.8,303.0 315.0,303.1 315.2,303.0 315.4,302.6 315.6,302.0 315.8,301.3 316.0,300.6 316.2,300.0 316.4,299.7 316.5,299.6 316.6,299.6 316.8,299.9 317.0,300.2 317.2,300.7 317.4,301.3 317.6,301.9 317.8,302.4 318.0,302.8 318.2,303.0 318.4,303.1 318.6,302.9 318.8,302.5 319.0,301.9 319.2,301.3 319.4,300.7 319.6,300.3 319.8,300.1 319.8,300.1 320.0,300.2 320.2,300.5 320.4,300.9 320.6,301.3 320.8,301.8 321.0,302.3 321.2,302.6 321.4,302.8 321.6,302.9 321.8,302.8 322.0,302.4 322.2,301.9 322.4,301.4 322.6,300.9 322.8,300.6 323.0,300.4 323.0,300.4 323.2,300.5 323.4,300.7 323.6,301.0 323.8,301.4 324.0,301.8 324.2,302.1 324.4,302.4 324.6,302.6 324.8,302.6 324.8,302.6 325.0,302.5 325.2,302.3 325.4,302.0 325.6,301.6 325.8,301.2 326.0,300.9 326.2,300.7 326.4,300.6 326.6,300.7 326.8,300.9 327.0,301.1 327.2,301.4 327.4,301.7 327.6,301.9 327.8,302.0 328.0,302.0 328.2,301.9 328.4,301.6 328.6,301.4 328.8,301.0 329.0,300.7 329.2,300.5 329.4,300.3 329.6,300.3 329.8,300.3 330.0,300.4 330.2,300.6 330.4,300.8 330.6,301.0 330.8,301.1 331.0,301.1 331.2,301.1 331.4,300.9 331.6,300.7 331.8,300.5 332.0,300.3 332.2,300.0 332.4,299.9 332.6,299.7 332.8,299.7 333.0,299.8 333.2,299.9 333.4,300.0 333.6,300.1 333.8,300.2 334.0,300.3 334.2,300.2 334.4,300.2 334.6,300.0 334.8,299.8 335.0,299.6 335.2,299.4 335.4,299.3 335.6,299.1 335.8,299.1 336.0,299.1 336.2,299.1 336.4,299.2 336.6,299.3 336.8,299.3 337.0,299.4 337.2,299.4 337.4,299.3 337.6,299.2 337.8,299.1 338.0,298.9 338.2,298.7 338.4,298.6 338.6,298.5 338.8,298.4 339.0,298.4 339.2,298.4 339.4,298.4 339.6,298.5 339.8,298.5 340.0,298.5 340.2,298.5 340.4,298.5 340.6,298.4 340.8,298.3 341.0,298.1 341.2,298.0 341.4,297.9 341.6,297.8 341.8,297.7 342.0,297.7 342.0,298.0 342.5,297.9 343.0,297.7 343.5,297.6 344.0,297.5 344.5,297.3 345.0,297.2 345.5,297.1 346.0,297.0 346.5,296.9 347.0,296.7 347.5,296.6 348.0,296.5 348.5,296.4 349.0,296.3 349.5,296.2 350.0,296.1 350.5,296.1 351.0,296.0 351.5,295.9 352.0,295.9 352.5,295.8 353.0,295.8 353.5,295.8 354.0,295.7 354.5,295.7 355.0,295.6 355.5,295.6 356.0,295.6 356.5,295.6 357.0,295.6 357.5,295.6 358.0,295.6 358.5,295.6 359.0,295.7 359.5,295.7 360.0,295.7 360.5,295.7 361.0,295.7 361.5,295.8 362.0,295.8 362.5,295.8 363.0,295.9 363.5,295.9 364.0,296.0 364.5,296.0 365.0,296.1 365.5,296.2 366.0,296.2 366.5,296.3 367.0,296.4 367.5,296.5 368.0,296.5 368.5,296.6 369.0,296.7 369.5,296.8 370.0,296.9 370.5,297.0 371.0,297.1 371.5,297.3 372.0,297.4 372.5,297.5 373.0,297.7 373.5,297.8 374.0,297.9 374.5,298.1 375.0,298.2 375.5,298.4 376.0,298.5 376.5,298.7 377.0,298.8 377.5,299.0 378.0,299.1 378.5,299.3 379.0,299.5 379.5,299.6 380.0,299.8 380.5,300.0 381.0,300.2 381.5,300.3 382.0,300.5 382.5,300.7 383.0,300.9 383.5,301.1 384.0,301.2 384.5,301.4 385.0,301.6 385.5,301.8 386.0,301.9 386.5,302.1 387.0,302.3 387.5,302.4 388.0,302.6 388.5,302.8 389.0,302.9 389.5,303.1 390.0,303.3 390.5,303.4 391.0,303.6 391.5,303.8 392.0,304.0 392.5,304.2 393.0,304.3 393.5,304.5 394.0,304.7 394.5,304.9 395.0,305.0 395.5,305.2 396.0,305.3 396.5,305.5 397.0,305.7 397.5,305.8 398.0,305.9 398.5,306.1 399.0,306.2 399.5,306.3 400.0,306.4 400.5,306.5 401.0,306.6 401.5,306.7 402.0,306.7 402.5,306.8 403.0,306.8 403.5,306.9 404.0,306.9 404.5,306.9 405.0,307.0 405.5,307.0 406.0,307.1 406.5,307.1 407.0,307.1 407.5,307.1 408.0,307.2 408.5,307.2 409.0,307.2 409.5,307.3 410.0,307.3 410.5,307.3 411.0,307.3 411.5,307.4 412.0,307.4 412.5,307.4 413.0,307.5 413.5,307.5 414.0,307.5 414.5,307.6 415.0,307.6 415.5,307.6 416.0,307.7 416.5,307.7 417.0,307.8 417.5,307.8 418.0,307.9 418.5,307.9 419.0,308.0 419.5,308.0 420.0,308.1 420.5,308.1 421.0,308.2 421.5,308.2 422.0,308.3 422.5,308.3 423.0,308.4 423.5,308.4 424.0,308.5 424.5,308.5 425.0,308.6 425.5,308.6 426.0,308.7 426.5,308.7 427.0,308.8 427.5,308.8 428.0,308.9 428.5,308.9 429.0,308.9 429.5,309.0 430.0,309.0 430.5,309.0 431.0,309.1 431.5,309.1 432.0,309.1 432.5,309.2 433.0,309.2 433.5,309.2 434.0,309.3 434.5,309.3 435.0,309.3 435.5,309.4 436.0,309.4 436.5,309.4 437.0,309.5 437.5,309.5 438.0,309.5 438.5,309.6 439.0,309.6 439.5,309.6 440.0,309.6 440.5,309.7 441.0,309.7 441.5,309.7 442.0,309.7 442.5,309.7 443.0,309.8 443.5,309.8 444.0,309.8 444.5,309.8 445.0,309.8 445.5,309.8 446.0,309.8 446.5,309.8 447.0,309.8 447.5,309.8 448.0,309.8 448.5,309.8 449.0,309.8 449.5,309.8 450.0,309.8 450.5,309.8 451.0,309.8 451.5,309.8 452.0,309.8 452.5,309.8 453.0,309.8 453.5,309.8 454.0,309.8 454.5,309.8 455.0,309.8 455.5,309.8 456.0,309.8 456.5,309.8 457.0,309.8 457.5,309.8 458.0,309.8 458.5,309.8 459.0,309.8 459.5,309.8 460.0,309.8 460.5,309.8 461.0,309.8 461.5,309.8 462.0,309.8 462.5,309.8 463.0,309.8 463.5,309.7 464.0,309.7 464.5,309.7 465.0,309.7 465.5,309.7 466.0,309.7 466.5,309.7 467.0,309.7 467.5,309.7 468.0,309.7 468.5,309.7 469.0,309.7 469.5,309.7 470.0,309.7 470.5,309.7 471.0,309.7 471.5,309.7 472.0,309.7 472.5,309.7 473.0,309.7 473.5,309.6 474.0,309.6 474.5,309.6 475.0,309.6 475.5,309.6 476.0,309.5 476.5,309.5 477.0,309.5 477.5,309.5 478.0,309.4 478.5,309.4 479.0,309.4 479.5,309.4 480.0,309.3 480.5,309.3 481.0,309.3 481.5,309.2 482.0,309.2 482.5,309.1 483.0,309.1 483.5,309.1 484.0,309.0 484.5,309.0 485.0,309.0 485.5,308.9 486.0,308.9 486.5,308.8 487.0,308.8 487.5,308.8 488.0,308.7 488.5,308.7 489.0,308.7 489.5,308.6 490.0,308.6 490.5,308.6 491.0,308.5 491.5,308.5 492.0,308.5 492.5,308.4 493.0,308.4 493.5,308.3 494.0,308.3 494.5,308.3 495.0,308.2 495.5,308.2 496.0,308.1 496.5,308.1 497.0,308.0 497.5,308.0 498.0,308.0 498.5,307.9 499.0,307.9 499.5,307.8 500.0,307.8 500.5,307.7 501.0,307.7 501.5,307.7 502.0,307.6 502.5,307.6 503.0,307.5 503.5,307.5 504.0,307.5 504.5,307.4 505.0,307.4 505.5,307.4 506.0,307.3 506.5,307.3 507.0,307.2 507.5,307.2 508.0,307.2 508.5,307.1 509.0,307.1 509.5,307.1 510.0,307.0 510.5,307.0 511.0,307.0 511.5,307.0 512.0,307.0 512.5,307.0 513.0,307.1 513.5,307.2 514.0,307.2 514.5,307.3 515.0,307.4 515.5,307.5 516.0,307.6 516.5,307.7 517.0,307.8 517.5,307.9 518.0,308.0 518.5,308.1 519.0,308.2 519.5,308.3 520.0,308.4 520.5,308.5 521.0,308.5 521.5,308.6 522.0,308.7 522.5,308.8 523.0,308.8 523.5,308.9 524.0,309.0 524.5,309.1 525.0,309.1 525.5,309.2 526.0,309.3 526.5,309.4 527.0,309.4 527.5,309.5 528.0,309.5 528.5,309.6 529.0,309.6 529.5,309.7 530.0,309.7 530.5,309.8 531.0,309.8 531.5,309.8 532.0,309.9 532.5,309.9 533.0,309.9 533.5,310.0 534.0,310.0 534.5,310.0 535.0,310.0 535.5,310.0 536.0,310.1 536.5,310.1 537.0,310.1 537.5,310.1 538.0,310.2 538.5,310.2 539.0,310.2 539.5,310.2 540.0,310.2 540.5,310.2 541.0,310.3 541.5,310.3 542.0,310.3 542.5,310.3 543.0,310.3 543.5,310.3 544.0,310.4 544.5,310.4 545.0,310.4 545.5,310.4 546.0,310.4 546.5,310.5 547.0,310.5 547.5,310.5 548.0,310.5 548.5,310.5 549.0,310.5 549.5,310.6 550.0,310.6 550.5,310.6 551.0,310.6 551.5,310.6 552.0,310.6 552.5,310.7 553.0,310.7 553.5,310.7 554.0,310.7 554.5,310.7 555.0,310.7 555.5,310.7 556.0,310.8 556.5,310.8 557.0,310.8 557.5,310.8 558.0,310.8 558.5,310.8 559.0,310.8 559.5,310.9 560.0,310.9 560.5,310.9 561.0,310.9"/>
<polyline points="115.9,415.0 116.3,419.0 117.0,423.0 118.3,427.5 120.3,432.5 122.5,436.3 124.8,438.8 125.6,420.0 125.7,-30.0 126.5,-30.0 126.6,150.0 127.5,170.0 127.7,330.0 127.7,330.0 127.9,337.0 128.1,342.7 128.3,347.6 128.5,352.1 128.7,356.3 128.9,360.2 129.1,364.1 129.3,368.1 129.5,372.2 129.7,376.4 129.9,380.5 130.1,384.5 130.3,388.4 130.5,392.2 130.7,396.0 130.9,399.7 131.1,403.2 131.3,406.5 131.5,409.2 131.7,411.6 131.9,413.8 132.1,415.7 132.3,417.2 132.5,418.3 132.7,419.1 132.9,419.8 133.1,420.5 133.3,421.0 133.5,421.6 133.7,422.1 133.9,422.7 134.1,423.3 134.3,423.7 134.5,423.9 134.7,423.8 134.9,423.4 135.1,422.9 135.3,422.4 135.5,421.9 135.7,421.6 135.9,421.2 136.1,421.0 136.3,420.8 136.5,420.9 136.7,421.4 136.9,422.1 137.1,423.0 137.3,424.0 137.5,424.8 137.7,425.5 137.9,426.3 138.1,427.1 138.3,427.8 138.5,428.5 138.7,429.0 138.9,429.2 139.1,429.0 139.3,428.2 139.5,427.0 139.7,425.5 139.9,423.9 140.2,422.4 140.4,420.7 140.6,418.6 140.8,416.4 141.0,414.6 141.2,413.7 141.4,414.4 141.6,417.0 141.8,420.1 142.0,422.7 142.2,425.3 142.4,427.4 142.6,428.0 142.8,427.8 143.0,427.4 143.2,427.1 143.4,426.9 143.6,427.0 143.8,427.5 144.0,428.1 144.2,428.9 144.4,429.8 144.6,430.5 144.8,431.2 145.0,432.0 145.2,432.8 145.4,433.6 145.6,434.3 145.8,434.9 146.0,435.2 146.2,435.3 146.4,435.2 146.6,435.0 146.8,434.8 147.0,434.5 147.2,434.1 147.4,433.7 147.6,433.3 147.8,432.9 148.0,432.5 148.2,432.0 148.4,431.5 148.6,430.9 148.8,430.2 149.0,429.5 149.2,428.9 149.4,428.5 149.6,428.3 149.8,428.8 150.0,430.1 150.2,431.7 150.4,433.3 150.6,434.5 150.8,435.7 151.0,436.8 151.2,437.7 151.4,438.0 151.6,438.0 151.8,438.0 152.0,437.9 152.2,437.8 152.4,437.7 152.6,437.4 152.6,437.4 152.8,437.4 153.0,436.3 153.2,434.0 153.4,430.5 153.6,425.8 153.8,420.1 154.0,413.7 154.2,406.8 154.4,399.7 154.6,392.7 154.8,386.2 155.0,380.4 155.2,375.5 155.2,375.5 155.4,380.7 155.6,386.9 155.8,394.0 156.0,401.7 156.2,409.6 156.4,417.4 156.6,424.7 156.8,431.2 157.0,436.6 157.2,440.7 157.4,443.3 157.6,444.6 157.8,444.7 158.0,443.0 158.2,438.8 158.4,432.2 158.6,423.5 158.8,413.3 159.0,402.5 159.2,391.8 159.4,382.1 159.6,373.9 159.7,370.8 159.8,373.6 160.0,380.2 160.2,387.9 160.4,396.4 160.6,405.4 160.8,414.4 161.0,422.9 161.2,430.5 161.4,436.8 161.6,441.5 161.8,444.5 162.0,445.9 162.2,445.8 162.4,444.0 162.6,440.1 162.8,434.2 163.0,426.7 163.2,418.1 163.4,409.4 163.6,401.1 163.8,394.1 164.0,388.8 164.0,389.0 164.2,393.1 164.4,398.1 164.6,403.9 164.8,410.3 165.0,416.8 165.2,423.1 165.4,429.1 165.6,434.2 165.8,438.4 166.0,441.4 166.2,443.3 166.4,444.1 166.6,443.7 166.8,441.4 167.0,436.7 167.2,429.8 167.4,421.2 167.6,411.5 167.8,401.7 168.0,392.5 168.2,384.6 168.4,378.9 168.4,379.1 168.6,383.3 168.8,388.5 169.0,394.7 169.2,401.6 169.4,408.9 169.6,416.3 169.8,423.6 170.0,430.3 170.2,436.3 170.4,441.3 170.6,445.1 170.8,447.6 171.0,448.8 171.2,449.0 171.4,447.5 171.6,443.7 171.8,437.5 172.0,429.3 172.2,419.4 172.4,408.6 172.6,397.6 172.8,387.3 173.0,378.3 173.2,371.1 173.3,368.7 173.4,371.2 173.6,376.5 173.8,382.9 174.0,390.2 174.2,398.2 174.4,406.6 174.6,415.0 174.8,423.2 175.0,430.7 175.2,437.2 175.4,442.6 175.6,446.7 175.8,449.4 176.0,450.8 176.2,451.0 176.4,449.5 176.6,445.6 176.8,439.2 177.0,430.6 177.2,420.2 177.4,408.8 177.6,397.1 177.8,385.9 178.0,375.8 178.2,367.6 178.4,362.0 178.4,362.4 178.6,366.8 178.8,372.5 179.0,379.2 179.2,386.8 179.4,395.0 179.6,403.6 179.8,412.2 180.0,420.5 180.2,428.2 180.4,435.2 180.6,441.1 180.8,445.7 181.0,449.0 181.2,451.1 181.4,451.9 181.6,451.6 181.8,449.7 182.0,446.0 182.2,440.5 182.4,433.3 182.6,424.8 182.8,415.5 183.0,406.0 183.2,396.9 183.4,388.5 183.6,381.5 183.8,376.1 183.9,374.5 184.0,376.5 184.2,380.7 184.4,385.8 184.6,391.9 184.8,398.6 185.0,405.8 185.2,413.2 185.4,420.5 185.6,427.6 185.8,434.1 186.0,439.9 186.2,444.7 186.4,448.4 186.6,451.1 186.8,452.6 187.0,453.1 187.2,452.6 187.4,450.7 187.6,447.1 187.8,442.0 188.0,435.6 188.2,428.1 188.4,420.1 188.6,411.9 188.8,404.1 189.0,397.0 189.2,391.2 189.4,386.7 189.5,385.5 189.6,387.2 189.8,390.7 190.0,395.0 190.2,400.2 190.4,406.0 190.6,412.2 190.8,418.6 191.0,425.1 191.2,431.3 191.4,437.2 191.6,442.4 191.8,446.8 192.0,450.4 192.2,453.0 192.4,454.6 192.6,455.3 192.8,455.1 193.0,453.8 193.2,451.0 193.4,446.8 193.6,441.3 193.8,434.8 194.0,427.6 194.2,420.2 194.4,413.0 194.6,406.3 194.8,400.6 195.0,396.1 195.2,393.5 195.2,393.8 195.4,396.2 195.6,399.4 195.8,403.3 196.0,407.9 196.2,412.9 196.4,418.4 196.6,424.0 196.8,429.6 197.0,435.1 197.2,440.3 197.4,445.0 197.6,449.1 197.8,452.5 198.0,455.1 198.2,457.0 198.4,458.0 198.6,458.3 198.8,457.9 199.0,456.5 199.2,454.1 199.4,450.6 199.6,446.2 199.8,441.2 200.0,435.6 200.2,429.9 200.4,424.3 200.6,419.1 200.8,414.5 201.0,410.8 201.2,408.2 201.3,407.6 201.4,408.6 201.6,410.6 201.8,413.2 202.0,416.4 202.2,419.9 202.4,423.9 202.6,428.1 202.8,432.4 203.0,436.8 203.2,441.1 203.4,445.1 203.6,448.9 203.8,452.2 204.0,455.1 204.2,457.4 204.4,459.0 204.6,460.1 204.8,460.7 205.0,460.7 205.2,460.2 205.4,459.0 205.6,457.1 205.8,454.4 206.0,451.2 206.2,447.4 206.4,443.4 206.6,439.2 206.8,435.1 207.0,431.3 207.2,427.9 207.4,425.0 207.6,422.9 207.8,421.7 207.8,421.9 208.0,423.2 208.2,424.9 208.4,427.0 208.6,429.5 208.8,432.4 209.0,435.5 209.2,438.8 209.4,442.1 209.6,445.5 209.8,448.7 210.0,451.8 210.2,454.6 210.4,457.1 210.6,459.2 210.8,460.9 211.0,462.1 211.2,462.8 211.4,463.1 211.6,463.1 211.8,462.6 212.0,461.6 212.2,460.2 212.4,458.2 212.6,455.8 212.8,453.1 213.0,450.3 213.2,447.4 213.4,444.5 213.6,441.9 213.8,439.5 214.0,437.6 214.2,436.2 214.4,435.5 214.4,435.6 214.6,436.4 214.8,437.4 215.0,438.8 215.2,440.4 215.4,442.3 215.6,444.3 215.8,446.4 216.0,448.7 216.2,451.0 216.4,453.2 216.6,455.4 216.8,457.4 217.0,459.3 217.2,460.9 217.4,462.3 217.6,463.4 217.8,464.2 218.0,464.7 218.2,464.9 218.4,464.9 218.7,464.6 218.9,464.0 219.1,463.0 219.3,461.6 219.5,460.0 219.7,458.1 219.9,456.1 220.1,454.0 220.3,451.9 220.5,449.9 220.7,448.0 220.9,446.4 221.1,445.1 221.3,444.2 221.4,443.8 221.5,443.9 221.7,444.4 221.9,445.2 222.1,446.2 222.3,447.4 222.5,448.8 222.7,450.4 222.9,452.0 223.1,453.7 223.3,455.5 223.5,457.2 223.7,458.9 223.9,460.5 224.1,461.9 224.3,463.2 224.5,464.3 224.7,465.1 224.9,465.8 225.1,466.2 225.3,466.4 225.5,466.4 225.7,466.1 225.9,465.5 226.1,464.6 226.3,463.4 226.5,462.0 226.7,460.3 226.9,458.5 227.1,456.7 227.3,454.9 227.5,453.1 227.7,451.5 227.9,450.2 228.1,449.1 228.3,448.3 228.4,448.0 228.5,448.1 228.7,448.5 228.9,449.2 229.1,450.1 229.3,451.2 229.5,452.4 229.7,453.7 229.9,455.2 230.1,456.7 230.3,458.3 230.5,459.8 230.7,461.3 230.9,462.7 231.1,463.9 231.3,465.0 231.5,465.9 231.7,466.6 231.9,467.1 232.1,467.4 232.3,467.5 232.5,467.5 232.7,467.1 232.9,466.4 233.1,465.4 233.3,464.2 233.5,462.7 233.7,461.1 233.9,459.3 234.1,457.6 234.3,455.9 234.5,454.3 234.7,452.9 234.9,451.8 235.1,450.9 235.3,450.4 235.3,450.4 235.5,450.6 235.7,451.2 235.9,451.9 236.1,452.9 236.3,454.1 236.5,455.4 236.7,456.8 236.9,458.3 237.1,459.9 237.3,461.4 237.5,462.8 237.7,464.2 237.9,465.4 238.1,466.4 238.3,467.2 238.5,467.9 238.7,468.2 238.9,468.4 239.1,468.4 239.3,468.2 239.5,467.6 239.7,466.8 239.9,465.7 240.1,464.4 240.3,462.9 240.5,461.4 240.7,459.8 240.9,458.3 241.1,457.0 241.3,455.9 241.5,455.0 241.7,454.4 241.8,454.2 241.9,454.3 242.1,454.6 242.3,455.1 242.5,455.9 242.7,456.7 242.9,457.8 243.1,458.9 243.3,460.1 243.5,461.4 243.7,462.6 243.9,463.9 244.1,465.0 244.3,466.1 244.5,467.1 244.7,467.8 244.9,468.4 245.1,468.9 245.3,469.1 245.5,469.2 245.7,469.1 245.9,468.7 246.1,468.2 246.3,467.4 246.5,466.4 246.7,465.2 246.9,464.0 247.1,462.8 247.3,461.6 247.5,460.4 247.7,459.4 247.9,458.7 248.1,458.1 248.3,457.8 248.3,457.8 248.5,457.9 248.7,458.3 248.9,458.8 249.1,459.5 249.3,460.3 249.5,461.3 249.7,462.3 249.9,463.4 250.1,464.4 250.3,465.5 250.5,466.5 250.7,467.4 250.9,468.2 251.1,468.8 251.3,469.3 251.5,469.7 251.7,469.8 251.9,469.8 252.1,469.7 252.3,469.3 252.5,468.7 252.7,467.9 252.9,467.0 253.1,466.1 253.3,465.0 253.5,464.0 253.7,463.0 253.9,462.2 254.1,461.5 254.3,461.0 254.5,460.8 254.5,460.8 254.7,460.9 254.9,461.2 255.1,461.6 255.3,462.2 255.5,462.8 255.7,463.5 255.9,464.3 256.1,465.2 256.3,466.0 256.5,466.9 256.7,467.6 256.9,468.3 257.1,469.0 257.3,469.5 257.5,469.8 257.7,470.1 257.9,470.2 258.1,470.2 258.3,470.0 258.5,469.7 258.7,469.1 258.9,468.5 259.1,467.7 259.3,466.9 259.5,466.0 259.7,465.1 259.9,464.3 260.1,463.6 260.3,463.1 260.5,462.7 260.7,462.5 260.7,462.5 260.9,462.6 261.1,462.9 261.3,463.2 261.5,463.7 261.7,464.3 261.9,464.9 262.1,465.6 262.3,466.3 262.5,467.0 262.7,467.7 262.9,468.3 263.1,468.9 263.3,469.3 263.5,469.6 263.7,469.9 263.9,470.0 264.1,469.9 264.3,469.8 264.5,469.4 264.7,468.9 264.9,468.2 265.1,467.5 265.3,466.7 265.5,465.9 265.7,465.1 265.9,464.5 266.1,463.9 266.3,463.5 266.5,463.2 266.6,463.2 266.7,463.2 266.9,463.4 267.1,463.7 267.3,464.2 267.5,464.7 267.7,465.3 267.9,465.9 268.1,466.5 268.3,467.0 268.5,467.5 268.7,468.0 268.9,468.3 269.1,468.5 269.3,468.6 269.5,468.6 269.7,468.5 269.9,468.2 270.1,467.7 270.3,467.2 270.5,466.5 270.7,465.9 270.9,465.3 271.1,464.8 271.3,464.4 271.5,464.2 271.5,464.2 271.7,464.3 271.9,464.5 272.1,464.9 272.3,465.4 272.5,466.0 272.7,466.7 272.9,467.4 273.1,468.2 273.3,468.9 273.5,469.6 273.7,470.2 273.9,470.7 274.1,471.0 274.3,471.2 274.5,471.2 274.7,471.2 274.9,470.9 275.1,470.6 275.3,470.2 275.5,469.7 275.7,469.1 275.9,468.6 276.1,468.2 276.3,467.9 276.5,467.6 276.6,467.6 276.7,467.6 276.9,467.7 277.1,468.0 277.3,468.2 277.5,468.6 277.7,469.0 277.9,469.5 278.1,470.0 278.3,470.5 278.5,471.0 278.7,471.4 278.9,471.8 279.1,472.2 279.3,472.4 279.5,472.6 279.7,472.7 279.9,472.6 280.1,472.5 280.3,472.2 280.5,471.9 280.7,471.5 280.9,471.0 281.1,470.6 281.3,470.1 281.5,469.7 281.7,469.4 281.9,469.2 282.1,469.1 282.1,469.1 282.3,469.2 282.5,469.3 282.7,469.6 282.9,469.9 283.1,470.3 283.3,470.7 283.5,471.2 283.7,471.6 283.9,472.1 284.1,472.4 284.3,472.8 284.5,473.0 284.7,473.2 284.9,473.3 285.1,473.3 285.3,473.2 285.5,473.0 285.7,472.8 285.9,472.4 286.1,472.0 286.3,471.7 286.5,471.3 286.7,471.0 286.9,470.8 287.1,470.6 287.2,470.6 287.3,470.6 287.5,470.7 287.7,470.9 287.9,471.1 288.1,471.3 288.3,471.6 288.5,472.0 288.7,472.3 288.9,472.6 289.1,472.9 289.3,473.2 289.5,473.5 289.7,473.6 289.9,473.8 290.1,473.8 290.3,473.8 290.5,473.7 290.7,473.5 290.9,473.3 291.1,473.0 291.3,472.7 291.5,472.3 291.7,472.1 291.9,471.8 292.1,471.6 292.3,471.5 292.4,471.5 292.5,471.5 292.7,471.6 292.9,471.7 293.1,471.9 293.3,472.1 293.5,472.3 293.7,472.6 293.9,472.9 294.1,473.2 294.3,473.4 294.5,473.6 294.7,473.8 294.9,474.0 295.1,474.1 295.3,474.1 295.5,474.1 295.7,474.0 295.9,473.9 296.1,473.7 296.3,473.4 296.5,473.2 296.7,472.9 296.9,472.7 297.1,472.4 297.3,472.3 297.5,472.2 297.6,472.2 297.7,472.2 297.9,472.3 298.1,472.4 298.3,472.5 298.5,472.7 298.7,472.9 298.9,473.1 299.1,473.4 299.3,473.6 299.5,473.8 299.7,474.0 299.9,474.2 300.1,474.3 300.3,474.4 300.5,474.4 300.5,474.4 300.7,474.4 300.9,474.4 301.1,474.3 301.3,474.2 301.5,474.1 301.7,474.0 301.9,474.0 302.1,473.9 302.3,473.8 302.5,473.8 302.7,473.8 302.9,473.8 303.1,473.8 303.3,473.9 303.5,474.0 303.7,474.1 303.9,474.2 304.1,474.3 304.3,474.4 304.5,474.5 304.7,474.5 304.9,474.6 305.1,474.6 305.3,474.6 305.5,474.5 305.7,474.5 305.9,474.4 306.1,474.3 306.3,474.3 306.5,474.2 306.7,474.1 306.9,474.1 307.1,474.1 307.3,474.1 307.5,474.1 307.7,474.1 307.9,474.2 308.1,474.3 308.3,474.4 308.5,474.5 308.7,474.6 308.9,474.6 309.1,474.7 309.3,474.7 309.5,474.8 309.7,474.7 309.9,474.7 310.1,474.7 310.3,474.6 310.5,474.5 310.7,474.5 310.9,474.4 311.2,474.4 311.4,474.3 311.6,474.3 311.8,474.3 312.0,474.3 312.2,474.4 312.4,474.4 312.6,474.5 312.8,474.6 313.0,474.7 313.2,474.7 313.4,474.8 313.6,474.8 313.8,474.9 314.0,474.9 314.2,474.9 314.4,474.8 314.6,474.8 314.8,474.7 315.0,474.7 315.2,474.6 315.4,474.6 315.6,474.5 315.8,474.5 316.0,474.5 316.2,474.5 316.4,474.5 316.6,474.6 316.8,474.6 317.0,474.7 317.2,474.8 317.4,474.8 317.6,474.9 317.8,474.9 318.0,475.0 318.2,475.0 318.4,474.9 318.6,474.9 318.8,474.9 319.0,474.8 319.2,474.8 319.4,474.7 319.6,474.7 319.8,474.6 320.0,474.6 320.2,474.6 320.4,474.6 320.6,474.7 320.8,474.7 321.0,474.8 321.2,474.8 321.4,474.9 321.6,474.9 321.8,475.0 322.0,475.0 322.2,475.0 322.4,475.0 322.6,475.0 322.8,475.0 323.0,474.9 323.2,474.9 323.4,474.8 323.6,474.8 323.8,474.8 324.0,474.8 324.2,474.7 324.4,474.8 324.6,474.8 324.8,474.8 325.0,474.9 325.0,475.0 326.0,475.0 327.0,475.0 328.0,475.0 329.0,475.0 330.0,475.1 331.0,475.1 332.0,475.1 333.0,475.1 334.0,475.1 335.0,475.1 336.0,475.1 337.0,475.1 338.0,475.1 339.0,475.1 340.0,475.1 341.0,475.1 342.0,475.1 343.0,475.1 344.0,475.1 345.0,475.1 346.0,475.1 347.0,475.1 348.0,475.1 349.0,475.1 350.0,475.1 351.0,475.1 352.0,475.1 353.0,475.0 354.0,475.0 355.0,475.0 356.0,475.0 357.0,475.0 358.0,475.0 359.0,475.0 360.0,475.0 361.0,475.0 362.0,475.0 363.0,475.0 364.0,475.0 365.0,474.9 366.0,474.9 367.0,474.9 368.0,474.9 369.0,474.9 370.0,474.9 371.0,474.9 372.0,474.9 373.0,474.9 374.0,474.9 375.0,474.9 376.0,474.8 377.0,474.8 378.0,474.8 379.0,474.8 380.0,474.8 381.0,474.8 382.0,474.8 383.0,474.8 384.0,474.8 385.0,474.7 386.0,474.7 387.0,474.7 388.0,474.7 389.0,474.7 390.0,474.7 391.0,474.7 392.0,474.7 393.0,474.7 394.0,474.7 395.0,474.6 396.0,474.6 397.0,474.6 398.0,474.6 399.0,474.6 400.0,474.6 401.0,474.6 402.0,474.6 403.0,474.6 404.0,474.6 405.0,474.6 406.0,474.6 407.0,474.5 408.0,474.5 409.0,474.5 410.0,474.5 411.0,474.5 412.0,474.5 413.0,474.5 414.0,474.5 415.0,474.5 416.0,474.5 417.0,474.5 418.0,474.5 419.0,474.5 420.0,474.5 421.0,474.5 422.0,474.5 423.0,474.5 424.0,474.4 425.0,474.4 426.0,474.4 427.0,474.4 428.0,474.4 429.0,474.4 430.0,474.4 431.0,474.4 432.0,474.4 433.0,474.4 434.0,474.4 435.0,474.4 436.0,474.4 437.0,474.4 438.0,474.4 439.0,474.4 440.0,474.4 441.0,474.4 442.0,474.3 443.0,474.3 444.0,474.3 445.0,474.3 446.0,474.3 447.0,474.3 448.0,474.3 449.0,474.3 450.0,474.3 451.0,474.3 452.0,474.3 453.0,474.3 454.0,474.3 455.0,474.3 456.0,474.3 457.0,474.3 458.0,474.3 459.0,474.2 460.0,474.2 461.0,474.2 462.0,474.2 463.0,474.2 464.0,474.2 465.0,474.2 466.0,474.2 467.0,474.2 468.0,474.2 469.0,474.2 470.0,474.2 471.0,474.2 472.0,474.2 473.0,474.2 474.0,474.2 475.0,474.1 476.0,474.1 477.0,474.1 478.0,474.1 479.0,474.1 480.0,474.1 481.0,474.1 482.0,474.1 483.0,474.1 484.0,474.1 485.0,474.1 486.0,474.1 487.0,474.1 488.0,474.1 489.0,474.1 490.0,474.1 491.0,474.1 492.0,474.0 493.0,474.0 494.0,474.0 495.0,474.0 496.0,474.0 497.0,474.0 498.0,474.0 499.0,474.0 500.0,474.0 501.0,474.0 502.0,474.0 503.0,474.0 504.0,474.0 505.0,474.0 506.0,474.0 507.0,474.0 508.0,474.0 509.0,474.0 510.0,473.9 511.0,473.9 512.0,473.9 513.0,473.9 514.0,473.9 515.0,473.9 516.0,473.9 517.0,473.9 518.0,473.9 519.0,473.9 520.0,473.9 521.0,473.9 522.0,473.9 523.0,473.9 524.0,473.9 525.0,473.9 526.0,473.9 527.0,473.9 528.0,473.9 529.0,473.8 530.0,473.8 531.0,473.8 532.0,473.8 533.0,473.8 534.0,473.8 535.0,473.8 536.0,473.8 537.0,473.8 538.0,473.8 539.0,473.8 540.0,473.8 541.0,473.8 542.0,473.8 543.0,473.8 544.0,473.8 545.0,473.8 546.0,473.8 547.0,473.8 548.0,473.8 549.0,473.8 550.0,473.7 551.0,473.7 552.0,473.7 553.0,473.7 554.0,473.7 555.0,473.7 556.0,473.7 557.0,473.7 558.0,473.7 559.0,473.7 560.0,473.7 561.0,473.7"/>
<polyline points="115.8,626.0 116.0,612.0 116.4,600.0 117.0,594.4 118.0,591.4 119.3,590.3 121.0,590.8 122.8,592.0 124.4,592.9 125.0,585.0 125.2,445.0 125.6,300.0 126.6,300.0 126.9,440.0 127.6,462.0 128.6,478.0 129.4,492.0 129.8,510.0 130.3,529.0 130.3,529.0 130.5,532.5 130.7,535.7 130.9,538.8 131.1,541.5 131.3,544.0 131.5,546.2 131.7,548.5 131.9,550.6 132.1,552.1 132.3,552.7 132.5,551.5 132.7,549.0 132.9,546.1 133.1,543.4 133.3,540.4 133.5,539.0 133.7,542.8 133.9,549.5 134.1,555.7 134.3,562.6 134.5,568.2 134.7,570.9 134.9,572.9 135.1,574.4 135.3,575.6 135.5,576.6 135.7,577.6 135.9,578.6 136.1,579.6 136.3,580.5 136.5,581.2 136.7,581.7 136.9,582.0 137.1,581.8 137.3,581.1 137.5,580.0 137.7,578.7 137.9,577.4 138.1,575.9 138.3,573.9 138.5,572.0 138.7,571.0 138.9,571.3 139.1,572.8 139.3,575.0 139.5,577.4 139.7,579.5 139.9,581.3 140.2,583.0 140.4,584.7 140.6,586.3 140.8,587.7 141.0,588.8 141.2,589.7 141.4,590.5 141.6,591.3 141.8,592.0 142.0,592.6 142.2,593.1 142.4,593.3 142.6,593.4 142.8,592.9 143.0,592.0 143.2,590.7 143.4,589.1 143.6,587.2 143.8,585.1 144.0,582.9 144.2,580.6 144.4,578.3 144.6,575.7 144.8,572.4 145.0,568.7 145.2,565.0 145.4,561.4 145.6,558.3 145.8,555.5 146.0,552.6 146.2,550.2 146.4,549.2 146.6,550.1 146.8,552.6 147.0,556.1 147.2,560.0 147.4,563.6 147.6,567.9 147.8,572.7 148.0,577.6 148.2,582.1 148.4,585.9 148.6,589.0 148.8,591.8 149.0,594.2 149.2,596.0 149.4,597.2 149.6,598.2 149.8,598.8 149.8,598.8 150.0,598.4 150.2,597.0 150.4,594.3 150.6,590.3 150.8,585.0 151.0,578.4 151.2,570.6 151.4,561.9 151.6,552.5 151.8,542.7 152.0,532.8 152.2,523.1 152.4,514.0 152.6,505.5 152.8,498.1 153.0,491.8 153.0,491.9 153.2,499.1 153.4,507.7 153.6,517.4 153.8,528.0 154.0,538.9 154.2,549.9 154.4,560.5 154.6,570.2 154.8,578.8 155.0,585.9 155.2,591.4 155.4,595.2 155.6,597.3 155.8,598.0 156.0,597.4 156.2,594.2 156.4,587.9 156.6,578.1 156.8,565.4 157.0,550.2 157.2,533.6 157.4,516.5 157.6,500.1 157.8,485.4 158.0,473.2 158.1,468.4 158.2,473.9 158.4,486.2 158.6,500.9 158.8,517.0 159.0,533.6 159.2,549.6 159.4,564.0 159.6,575.8 159.8,584.7 160.0,590.2 160.2,592.7 160.4,592.7 160.6,589.8 160.8,582.7 161.0,571.3 161.2,556.5 161.4,539.6 161.6,522.4 161.8,506.7 162.0,494.0 162.1,489.5 162.2,492.6 162.4,499.4 162.6,507.3 162.8,516.2 163.0,525.7 163.2,535.5 163.4,545.2 163.6,554.4 163.8,563.0 164.0,570.4 164.2,576.6 164.4,581.4 164.6,584.7 164.8,586.7 165.0,587.5 165.2,587.5 165.4,586.2 165.6,583.5 165.8,579.1 166.0,573.2 166.2,566.0 166.4,557.9 166.6,549.4 166.8,541.0 167.0,533.3 167.2,526.7 167.4,521.8 167.4,522.1 167.6,526.0 167.8,531.0 168.0,536.7 168.2,543.1 168.4,550.0 168.6,557.2 168.8,564.3 169.0,571.2 169.2,577.5 169.4,583.1 169.6,587.8 169.8,591.5 170.0,594.1 170.2,595.7 170.4,596.5 170.6,596.5 170.8,594.8 171.0,591.1 171.2,585.1 171.4,576.9 171.6,566.9 171.8,555.6 172.0,543.6 172.2,531.7 172.4,520.6 172.6,510.9 172.8,503.0 172.9,500.4 173.0,503.1 173.2,508.6 173.4,515.2 173.6,522.7 173.8,531.0 174.0,539.7 174.2,548.7 174.4,557.6 174.6,566.2 174.8,574.2 175.0,581.4 175.2,587.6 175.4,592.6 175.6,596.4 175.8,599.0 176.0,600.5 176.2,601.0 176.4,600.6 176.6,598.5 176.8,594.2 177.0,587.7 177.2,579.0 177.4,568.4 177.6,556.3 177.8,543.4 178.0,530.3 178.2,517.6 178.4,506.1 178.6,496.1 178.8,488.1 178.9,485.6 179.0,488.7 179.2,494.7 179.4,501.8 179.6,510.1 179.8,519.1 180.0,528.7 180.2,538.7 180.4,548.6 180.6,558.3 180.8,567.5 181.0,575.8 181.2,583.1 181.4,589.2 181.6,594.0 181.8,597.5 182.0,599.8 182.2,600.8 182.4,601.0 182.6,600.0 182.8,597.2 183.0,592.5 183.2,585.7 183.4,577.0 183.6,566.7 183.8,555.3 184.0,543.3 184.2,531.3 184.4,519.8 184.6,509.4 184.8,500.6 185.0,493.6 185.1,491.6 185.2,494.4 185.4,499.7 185.6,506.1 185.8,513.5 186.0,521.7 186.2,530.4 186.4,539.5 186.6,548.8 186.8,557.8 187.0,566.4 187.2,574.4 187.4,581.5 187.6,587.6 187.8,592.6 188.0,596.4 188.2,599.0 188.4,600.4 188.6,601.0 188.8,600.8 189.0,599.3 189.2,596.3 189.4,591.6 189.6,585.3 189.8,577.4 190.0,568.4 190.2,558.6 190.4,548.4 190.6,538.3 190.8,528.8 191.0,520.3 191.2,513.1 191.4,507.5 191.5,506.0 191.6,508.2 191.8,512.3 192.0,517.2 192.2,523.0 192.4,529.3 192.6,536.2 192.8,543.5 193.0,550.9 193.2,558.4 193.4,565.6 193.6,572.5 193.8,578.9 194.0,584.6 194.2,589.5 194.4,593.6 194.6,596.8 194.8,599.1 195.0,600.5 195.2,601.1 195.4,601.2 195.6,600.5 195.8,598.6 196.0,595.4 196.2,590.9 196.4,585.1 196.6,578.2 196.8,570.4 197.0,562.1 197.2,553.4 197.4,544.9 197.6,536.8 197.8,529.4 198.0,523.1 198.2,518.0 198.4,514.9 198.4,515.4 198.6,518.2 198.8,521.8 199.0,526.1 199.2,531.0 199.4,536.3 199.6,542.1 199.8,548.2 200.0,554.4 200.2,560.7 200.4,566.9 200.6,572.8 200.8,578.4 201.0,583.6 201.2,588.1 201.4,592.1 201.6,595.4 201.8,598.0 202.0,599.8 202.2,601.0 202.4,601.6 202.6,601.7 202.8,601.4 203.0,600.1 203.2,598.0 203.4,594.8 203.6,590.7 203.8,585.7 204.0,579.9 204.2,573.6 204.4,566.8 204.6,559.9 204.8,553.2 205.0,546.7 205.2,540.8 205.4,535.6 205.6,531.3 205.8,528.1 205.9,527.3 206.0,528.9 206.2,531.6 206.4,534.9 206.6,538.9 206.8,543.3 207.0,548.1 207.2,553.3 207.4,558.6 207.6,564.1 207.8,569.5 208.0,574.9 208.2,579.9 208.4,584.6 208.6,588.9 208.8,592.7 209.0,595.9 209.2,598.5 209.4,600.5 209.6,601.9 209.8,602.6 210.0,603.0 210.2,602.9 210.4,602.3 210.6,600.9 210.8,598.8 211.0,595.9 211.2,592.2 211.4,587.8 211.6,583.0 211.8,577.7 212.0,572.3 212.2,566.8 212.4,561.5 212.6,556.6 212.8,552.3 213.0,548.6 213.2,545.7 213.4,544.1 213.4,544.5 213.6,546.4 213.8,548.9 214.0,551.9 214.2,555.5 214.4,559.4 214.7,563.6 214.9,568.1 215.1,572.6 215.3,577.2 215.5,581.7 215.7,586.0 215.9,590.0 216.1,593.6 216.3,596.8 216.5,599.5 216.7,601.6 216.9,603.1 217.1,604.2 217.3,604.7 217.5,604.9 217.7,604.6 217.9,603.9 218.1,602.4 218.3,600.3 218.5,597.5 218.7,594.2 218.9,590.3 219.1,586.1 219.3,581.7 219.5,577.3 219.7,573.0 219.9,569.0 220.1,565.4 220.3,562.5 220.5,560.2 220.6,559.1 220.7,559.4 220.9,560.7 221.1,562.5 221.3,564.8 221.5,567.3 221.7,570.2 221.9,573.3 222.1,576.7 222.3,580.1 222.5,583.5 222.7,586.9 222.9,590.2 223.1,593.3 223.3,596.1 223.5,598.6 223.7,600.7 223.9,602.5 224.1,603.8 224.3,604.8 224.5,605.4 224.7,605.6 224.9,605.6 225.1,605.2 225.3,604.2 225.5,602.8 225.7,600.8 225.9,598.3 226.1,595.3 226.3,592.0 226.5,588.4 226.7,584.7 226.9,581.0 227.1,577.6 227.3,574.3 227.5,571.5 227.7,569.2 227.9,567.5 228.0,566.6 228.1,566.9 228.3,568.1 228.5,569.8 228.7,571.8 228.9,574.2 229.1,576.9 229.3,579.9 229.5,582.9 229.7,586.0 229.9,589.1 230.1,592.1 230.3,594.9 230.5,597.4 230.7,599.6 230.9,601.5 231.1,602.9 231.3,604.0 231.5,604.6 231.7,604.9 231.9,604.9 232.1,604.6 232.3,603.7 232.5,602.2 232.7,600.1 232.9,597.5 233.1,594.3 233.3,590.8 233.5,587.1 233.7,583.4 233.9,579.8 234.1,576.5 234.3,573.6 234.5,571.2 234.7,569.4 234.8,568.7 234.9,568.9 235.1,570.0 235.3,571.4 235.5,573.2 235.7,575.3 235.9,577.7 236.1,580.3 236.3,583.0 236.5,585.8 236.7,588.6 236.9,591.4 237.1,593.9 237.3,596.3 237.5,598.4 237.7,600.3 237.9,601.7 238.1,602.9 238.3,603.6 238.5,604.1 238.7,604.2 238.9,604.1 239.1,603.6 239.3,602.5 239.5,600.9 239.7,598.8 239.9,596.2 240.1,593.2 240.3,589.9 240.5,586.5 240.7,583.1 240.9,579.8 241.1,576.9 241.3,574.3 241.5,572.2 241.7,570.7 241.8,570.1 241.9,570.4 242.1,571.3 242.3,572.7 242.5,574.4 242.7,576.5 242.9,578.8 243.1,581.3 243.3,584.0 243.5,586.7 243.7,589.4 243.9,592.0 244.1,594.5 244.3,596.7 244.5,598.7 244.7,600.3 244.9,601.6 245.1,602.6 245.3,603.2 245.5,603.4 245.7,603.4 245.9,603.1 246.1,602.3 246.3,600.9 246.5,598.9 246.7,596.5 246.9,593.7 247.1,590.6 247.3,587.3 247.5,584.0 247.7,580.9 247.9,578.0 248.1,575.5 248.3,573.6 248.5,572.2 248.6,571.7 248.7,571.9 248.9,572.8 249.1,574.2 249.3,575.9 249.5,577.9 249.7,580.3 249.9,582.8 250.1,585.4 250.3,588.1 250.5,590.8 250.7,593.3 250.9,595.7 251.1,597.8 251.3,599.5 251.5,601.0 251.7,602.0 251.9,602.7 252.1,603.1 252.3,603.1 252.5,602.9 252.7,602.2 252.9,600.9 253.1,599.2 253.3,596.9 253.5,594.4 253.7,591.5 253.9,588.6 254.1,585.7 254.3,582.9 254.5,580.5 254.7,578.5 254.9,577.0 255.1,576.2 255.1,576.1 255.3,576.6 255.5,577.6 255.7,578.9 255.9,580.5 256.1,582.3 256.3,584.4 256.5,586.6 256.7,588.9 256.9,591.2 257.1,593.5 257.3,595.6 257.5,597.5 257.7,599.2 257.9,600.6 258.1,601.7 258.3,602.4 258.5,602.9 258.7,603.0 258.9,603.0 259.1,602.5 259.3,601.7 259.5,600.4 259.7,598.7 259.9,596.6 260.1,594.3 260.3,591.9 260.5,589.4 260.7,587.0 260.9,584.8 261.1,583.0 261.3,581.6 261.5,580.7 261.6,580.4 261.7,580.5 261.9,581.2 262.1,582.2 262.3,583.5 262.5,585.1 262.7,587.0 262.9,588.9 263.1,591.0 263.3,593.1 263.5,595.1 263.7,597.0 263.9,598.7 264.1,600.1 264.3,601.3 264.5,602.1 264.7,602.7 264.9,603.0 265.1,603.0 265.3,602.7 265.5,601.9 265.7,600.8 265.9,599.1 266.1,597.2 266.3,594.9 266.5,592.6 266.7,590.2 266.9,588.0 267.1,586.0 267.3,584.5 267.5,583.3 267.7,582.7 267.7,582.7 267.9,583.1 268.1,583.9 268.3,585.0 268.5,586.3 268.7,588.0 268.9,589.7 269.1,591.6 269.3,593.6 269.5,595.5 269.7,597.3 269.9,598.9 270.1,600.3 270.3,601.4 270.5,602.2 270.7,602.7 270.9,603.0 271.1,603.0 271.3,602.6 271.5,601.9 271.7,600.7 271.9,599.1 272.1,597.3 272.3,595.2 272.5,593.0 272.7,590.9 272.9,589.0 273.1,587.3 273.3,586.1 273.5,585.4 273.6,585.2 273.7,585.3 273.9,585.8 274.1,586.6 274.3,587.7 274.5,589.0 274.7,590.5 274.9,592.1 275.1,593.8 275.3,595.5 275.5,597.1 275.7,598.6 275.9,600.0 276.1,601.1 276.3,602.0 276.5,602.6 276.7,602.9 276.9,603.0 277.1,602.9 277.3,602.4 277.5,601.5 277.7,600.3 277.9,598.8 278.1,597.1 278.3,595.3 278.5,593.5 278.7,591.7 278.9,590.2 279.1,589.0 279.3,588.2 279.5,587.8 279.5,587.8 279.7,588.1 279.9,588.7 280.1,589.6 280.3,590.7 280.5,592.0 280.7,593.4 280.9,594.9 281.1,596.4 281.3,597.9 281.5,599.3 281.7,600.5 281.9,601.5 282.1,602.2 282.3,602.7 282.5,603.0 282.7,603.0 282.9,602.8 283.1,602.2 283.3,601.4 283.5,600.2 283.7,598.9 283.9,597.4 284.1,595.9 284.3,594.4 284.5,593.1 284.7,592.1 284.9,591.4 285.1,591.1 285.1,591.1 285.3,591.4 285.5,591.9 285.7,592.6 285.9,593.6 286.1,594.8 286.3,596.0 286.5,597.3 286.7,598.6 286.9,599.8 287.1,600.9 287.3,601.9 287.5,602.6 287.7,603.1 287.9,603.4 288.1,603.5 288.3,603.3 288.5,602.8 288.7,602.1 288.9,601.1 289.1,599.9 289.3,598.6 289.5,597.3 289.7,596.1 289.9,595.0 290.1,594.2 290.3,593.8 290.4,593.7 290.5,593.8 290.7,594.1 290.9,594.7 291.1,595.5 291.3,596.5 291.5,597.6 291.7,598.7 291.9,599.8 292.1,600.9 292.3,601.9 292.5,602.7 292.7,603.3 292.9,603.8 293.1,604.0 293.3,604.0 293.5,603.8 293.7,603.3 293.9,602.5 294.1,601.5 294.3,600.4 294.5,599.3 294.7,598.2 294.9,597.3 295.1,596.6 295.3,596.2 295.4,596.1 295.5,596.2 295.7,596.5 295.9,597.2 296.1,598.0 296.3,598.9 296.5,600.0 296.7,601.1 296.9,602.1 297.1,603.1 297.3,603.9 297.5,604.5 297.7,604.9 297.9,605.0 298.1,604.9 298.3,604.5 298.5,603.8 298.7,602.9 298.9,601.8 299.1,600.6 299.3,599.6 299.5,598.7 299.7,598.0 299.9,597.8 299.9,597.8 300.1,598.0 300.3,598.5 300.5,599.2 300.7,600.0 300.9,601.0 301.1,602.1 301.3,603.1 301.5,604.1 301.7,604.9 301.9,605.5 302.1,606.0 302.3,606.2 302.5,606.1 302.7,605.9 302.9,605.3 303.1,604.5 303.3,603.5 303.5,602.5 303.7,601.6 303.9,600.8 304.1,600.2 304.3,600.0 304.3,600.0 304.5,600.2 304.7,600.6 304.9,601.2 305.1,602.0 305.3,602.8 305.5,603.8 305.7,604.7 305.9,605.5 306.1,606.3 306.3,606.9 306.5,607.3 306.7,607.5 306.9,607.5 307.1,607.3 307.3,606.9 307.5,606.3 307.7,605.7 307.9,605.0 308.1,604.3 308.3,603.7 308.5,603.3 308.7,603.2 308.7,603.2 308.9,603.4 309.1,603.7 309.3,604.2 309.5,604.9 309.7,605.6 309.9,606.3 310.1,607.1 310.3,607.7 310.5,608.2 310.7,608.5 310.9,608.7 311.1,608.7 311.3,608.5 311.5,608.1 311.7,607.6 311.9,607.0 312.1,606.4 312.3,605.9 312.5,605.5 312.7,605.4 312.7,605.4 312.9,605.5 313.1,605.8 313.3,606.2 313.5,606.7 313.7,607.3 313.9,607.9 314.1,608.5 314.3,609.0 314.5,609.4 314.7,609.7 314.9,609.9 315.1,609.9 315.3,609.7 315.5,609.4 315.7,609.0 315.9,608.5 316.1,608.0 316.3,607.5 316.5,607.1 316.7,606.9 316.8,606.9 316.9,606.9 317.1,607.1 317.3,607.4 317.5,607.8 317.7,608.2 317.9,608.7 318.1,609.1 318.3,609.6 318.5,609.9 318.7,610.2 318.9,610.4 319.1,610.4 319.3,610.3 319.5,610.1 319.7,609.7 319.9,609.3 320.1,608.8 320.3,608.3 320.5,607.9 320.7,607.7 320.9,607.6 320.9,607.6 321.1,607.7 321.3,607.9 321.5,608.2 321.7,608.6 321.9,609.0 322.1,609.4 322.3,609.8 322.5,610.1 322.7,610.4 322.9,610.5 323.1,610.6 323.3,610.5 323.5,610.3 323.7,609.9 323.9,609.5 324.1,609.0 324.3,608.6 324.5,608.2 324.7,608.0 324.9,607.9 324.9,607.9 325.1,608.0 325.3,608.2 325.5,608.4 325.7,608.7 325.9,609.0 326.1,609.3 326.3,609.6 326.5,609.9 326.7,610.0 326.9,610.1 327.1,610.2 327.3,610.1 327.5,609.9 327.7,609.5 327.9,609.1 328.1,608.7 328.3,608.4 328.5,608.1 328.7,607.9 328.9,607.8 328.9,607.8 329.1,607.9 329.3,608.0 329.5,608.2 329.7,608.5 329.9,608.8 330.1,609.0 330.3,609.3 330.5,609.5 330.7,609.7 330.9,609.8 331.1,609.8 331.1,609.8 331.3,609.8 331.5,609.7 331.7,609.6 331.9,609.5 332.1,609.4 332.3,609.3 332.5,609.2 332.7,609.1 332.9,609.0 333.1,609.0 333.3,609.0 333.5,609.1 333.8,609.2 334.0,609.3 334.2,609.4 334.4,609.5 334.6,609.6 334.8,609.6 335.0,609.7 335.2,609.7 335.4,609.6 335.6,609.6 335.8,609.5 336.0,609.4 336.2,609.3 336.4,609.2 336.6,609.2 336.8,609.1 337.0,609.1 337.2,609.1 337.4,609.1 337.6,609.2 337.8,609.3 338.0,609.4 338.2,609.4 338.4,609.5 338.6,609.6 338.8,609.6 339.0,609.6 339.2,609.6 339.4,609.5 339.6,609.5 339.8,609.4 340.0,609.3 340.2,609.2 340.4,609.2 340.6,609.1 340.8,609.1 341.0,609.1 341.2,609.2 341.4,609.2 341.6,609.3 341.8,609.3 342.0,609.4 342.2,609.4 342.4,609.5 342.6,609.5 342.8,609.5 343.0,609.5 343.2,609.4 343.4,609.4 343.6,609.3 343.8,609.2 344.0,609.2 344.2,609.2 344.4,609.1 344.6,609.1 344.8,609.1 345.0,609.2 345.2,609.2 345.4,609.3 345.6,609.3 345.8,609.3 346.0,609.4 346.0,609.8 347.0,608.8 348.0,609.5 349.0,609.2 350.0,609.2 351.0,609.2 352.0,608.7 353.0,609.0 354.0,608.8 355.0,609.6 356.0,608.7 357.0,608.4 358.0,608.3 359.0,608.0 360.0,607.6 361.0,607.5 362.0,607.3 363.0,606.9 364.0,606.9 365.0,606.5 366.0,606.4 367.0,606.6 368.0,606.3 369.0,606.0 370.0,606.0 371.0,606.1 372.0,606.4 373.0,606.0 374.0,606.0 375.0,606.4 376.0,606.1 377.0,606.4 378.0,606.8 379.0,606.9 380.0,607.0 381.0,607.3 382.0,606.8 383.0,607.8 384.0,607.6 385.0,607.6 386.0,608.2 387.0,608.6 388.0,608.5 389.0,608.6 390.0,609.1 391.0,609.4 392.0,610.0 393.0,610.1 394.0,610.2 395.0,610.7 396.0,610.8 397.0,610.9 398.0,611.6 399.0,611.9 400.0,612.1 401.0,612.3 402.0,612.8 403.0,612.5 404.0,613.4 405.0,613.6 406.0,613.5 407.0,614.1 408.0,614.1 409.0,614.7 410.0,614.3 411.0,614.7 412.0,615.2 413.0,615.4 414.0,614.7 415.0,615.2 416.0,615.4 417.0,615.2 418.0,615.8 419.0,615.2 420.0,615.6 421.0,615.3 422.0,615.9 423.0,615.6 424.0,615.5 425.0,615.2 426.0,616.0 427.0,615.8 428.0,615.8 429.0,615.8 430.0,615.7 431.0,615.4 432.0,615.4 433.0,615.4 434.0,615.9 435.0,615.2 436.0,615.4 437.0,615.5 438.0,615.6 439.0,615.7 440.0,615.3 441.0,615.1 442.0,615.5 443.0,615.8 444.0,615.6 445.0,615.3 446.0,615.1 447.0,615.0 448.0,614.7 449.0,614.8 450.0,614.1 451.0,614.1 452.0,613.8 453.0,613.8 454.0,613.7 455.0,614.2 456.0,613.9 457.0,613.9 458.0,613.1 459.0,613.5 460.0,613.4 461.0,613.6 462.0,613.0 463.0,613.8 464.0,613.7 465.0,613.2 466.0,613.3 467.0,613.3 468.0,613.6 469.0,613.7 470.0,614.1 471.0,613.6 472.0,613.8 473.0,613.7 474.0,614.1 475.0,613.8 476.0,613.8 477.0,613.0 478.0,613.0 479.0,612.6 480.0,612.8 481.0,612.5 482.0,612.2 483.0,612.2 484.0,612.4 485.0,612.2 486.0,612.2 487.0,612.5 488.0,612.9 489.0,612.3 490.0,612.3 491.0,612.1 492.0,612.0 493.0,612.4 494.0,612.3 495.0,612.0 496.0,612.0 497.0,611.9 498.0,611.8 499.0,611.3 500.0,611.4 501.0,611.5 502.0,611.2 503.0,611.1 504.0,610.9 505.0,610.9 506.0,611.1 507.0,610.7 508.0,610.6 509.0,610.7 510.0,610.5 511.0,610.7 512.0,609.8 513.0,610.4 514.0,610.1 515.0,610.5 516.0,610.9 517.0,611.2 518.0,611.4 519.0,611.4 520.0,611.9 521.0,611.6 522.0,611.8 523.0,612.1 524.0,611.9 525.0,612.6 526.0,612.4 527.0,612.7 528.0,612.3 529.0,612.2 530.0,612.4 531.0,612.6 532.0,612.3 533.0,612.6 534.0,612.5 535.0,612.9 536.0,612.5 537.0,612.9 538.0,612.6 539.0,612.5 540.0,612.6 541.0,612.6 542.0,612.9 543.0,613.2 544.0,613.0 545.0,613.2 546.0,613.4 547.0,613.2 548.0,613.2 549.0,613.1 550.0,612.9 551.0,613.5 552.0,612.9 553.0,613.5 554.0,613.4 555.0,613.7 556.0,613.5 557.0,613.4 558.0,613.7 559.0,613.5 560.0,613.6 561.0,613.7"/>
<path d="M154.8,65.8L154.9,65.9L155.1,71.7L155.3,78.5L155.5,86.3L155.7,94.8L155.9,103.7L156.1,112.7L156.3,121.6L156.5,129.9L156.7,137.4L156.9,143.9L157.1,149.1L157.3,153.0L157.5,155.5L157.7,156.6M160.0,65.4L160.1,65.6L160.3,72.6L160.5,81.2L160.7,91.0L160.9,101.6L161.1,112.5L161.3,123.1L161.5,133.0L161.7,141.6L161.9,148.5L162.1,153.6L162.3,156.6L162.5,157.7M164.4,80.7L164.5,81.0L164.7,86.4L164.9,93.0L165.1,100.5L165.3,108.7L165.5,117.2L165.7,125.5L165.9,133.3L166.1,140.1L166.3,145.8L166.5,150.1L166.7,152.9L166.9,154.2M168.9,61.0L169.1,64.3L169.3,71.2L169.5,79.6L169.7,89.1L169.9,99.3L170.1,110.0L170.3,120.4L170.5,130.3L170.7,139.1L170.9,146.6L171.1,152.3L171.3,156.2L171.5,158.3L171.7,158.9M173.8,46.8L173.9,50.6L174.1,58.1L174.3,67.3L174.5,77.9L174.7,89.3L174.9,101.2L175.1,113.1L175.3,124.5L175.5,134.8L175.7,143.7L175.9,150.9L176.1,156.1L176.3,159.3L176.5,160.6M178.8,45.7L178.9,48.9L179.1,55.2L179.3,62.9L179.5,71.6L179.7,81.3L179.9,91.6L180.1,102.2L180.3,112.7L180.5,122.8L180.7,132.1L180.9,140.3L181.1,147.3L181.3,152.7L181.5,156.7L181.7,159.0L181.9,159.9M184.4,55.2L184.5,55.8L184.7,60.5L184.9,66.4L185.1,73.4L185.3,81.4L185.5,90.1L185.7,99.3L185.9,108.6L186.1,117.8L186.3,126.6L186.5,134.8L186.7,142.0L186.9,148.0L187.1,152.8L187.3,156.2L187.5,158.3L187.7,159.2M190.3,78.8L190.5,80.8L190.7,84.3L190.9,88.7L191.1,93.9L191.3,99.7L191.5,106.0L191.7,112.7L191.9,119.5L192.1,126.3L192.3,133.0L192.5,139.2L192.7,145.0L192.9,150.0L193.1,154.3L193.3,157.6L193.5,160.1L193.7,161.6L193.9,162.3M196.8,87.7L196.9,88.2L197.1,90.8L197.3,94.1L197.5,98.2L197.7,102.9L197.9,108.1L198.1,113.7L198.3,119.6L198.5,125.6L198.7,131.5L198.9,137.2L199.1,142.6L199.3,147.5L199.5,151.9L199.7,155.5L199.9,158.4L200.1,160.5L200.3,161.8L200.5,162.4M203.5,102.1L203.7,103.4L203.9,105.8L204.1,108.7L204.3,112.3L204.5,116.4L204.7,120.9L204.9,125.6L205.1,130.6L205.3,135.6L205.5,140.5L205.7,145.2L205.9,149.5L206.1,153.5L206.3,156.9L206.5,159.7L206.7,161.8L206.9,163.3L207.1,164.1M210.2,117.7L210.3,118.0L210.5,119.4L210.7,121.2L210.9,123.5L211.1,126.2L211.3,129.2L211.5,132.5L211.7,136.0L211.9,139.6L212.1,143.2L212.3,146.8L212.5,150.2L212.7,153.5L212.9,156.4L213.1,159.0L213.3,161.2L213.5,162.9L213.7,164.2L213.9,165.0M217.3,132.1L217.5,132.7L217.7,133.8L217.9,135.2L218.1,136.9L218.3,138.9L218.5,141.1L218.7,143.4L218.9,145.9L219.1,148.5L219.3,151.1L219.5,153.6L219.7,155.9L219.9,158.2L220.1,160.2L220.3,161.9L220.5,163.4L220.7,164.5L220.9,165.3L221.1,165.8M224.5,140.9L224.7,141.3L224.9,142.2L225.1,143.3L225.3,144.6L225.5,146.2L225.7,148.0L225.9,149.9L226.1,151.9L226.3,153.9L226.5,155.9L226.7,157.8L226.9,159.6L227.1,161.3L227.3,162.7L227.5,163.9L227.7,164.8L227.9,165.5M231.3,142.6L231.5,143.1L231.7,143.8L231.9,144.8L232.1,146.1L232.3,147.6L232.5,149.3L232.7,151.1L232.9,153.0L233.1,154.9L233.3,156.8L233.5,158.6L233.7,160.3L233.9,161.8L234.1,163.2L234.3,164.3L234.5,165.1L234.7,165.6M238.1,142.2L238.3,142.8L238.5,143.7L238.7,144.9L238.9,146.4L239.1,148.0L239.3,149.8L239.5,151.7L239.7,153.6L239.9,155.6L240.1,157.4L240.3,159.2L240.5,160.7L240.7,162.1L240.9,163.2L241.1,164.1L241.3,164.7M244.7,149.0L244.9,149.5L245.1,150.2L245.3,151.2L245.5,152.3L245.7,153.5L245.9,154.8L246.1,156.2L246.3,157.7L246.5,159.1L246.7,160.4L246.9,161.6L247.1,162.8L247.3,163.7L247.5,164.4L247.7,165.0M251.4,151.3L251.6,151.9L251.8,152.7L252.0,153.7L252.2,154.9L252.4,156.2L252.6,157.6L252.8,159.0L253.0,160.4L253.2,161.7L253.4,162.9L253.6,163.9L253.8,164.7L254.0,165.4L254.2,165.8M257.6,155.1L257.8,155.7L258.0,156.3L258.2,157.1L258.4,158.1L258.6,159.0L258.8,160.0L259.0,161.1L259.2,162.1L259.4,163.1L259.6,164.0L259.8,164.7L260.0,165.4L260.2,165.9M264.0,157.6L264.2,158.1L264.4,158.6L264.6,159.3L264.8,160.0L265.0,160.8L265.2,161.5L265.4,162.2L265.6,162.8L265.8,163.3L266.0,163.7M269.8,156.6L270.0,157.1L270.2,157.5L270.4,158.0L270.6,158.5L270.8,159.0L271.0,159.4M274.8,157.0L275.0,157.5L275.2,158.1L275.4,158.9L275.6,159.8L275.8,160.8L276.0,161.7L276.2,162.7L276.4,163.5L276.6,164.2L276.8,164.7M279.8,162.2L280.0,162.7L280.2,163.2L280.4,163.9L280.6,164.6L280.8,165.3L281.0,165.9L281.2,166.5L281.4,167.0" stroke-width="0.6"/>
<path d="M154.9,217.7L155.1,220.7L155.3,227.5L155.5,235.3L155.7,243.9L155.9,253.1L156.1,262.4L156.3,271.5L156.5,280.1L156.7,287.8L156.9,294.4L157.1,299.5L157.3,303.2L157.5,305.4L157.7,306.2M159.8,210.2L159.9,210.4L160.1,218.1L160.3,227.5L160.5,238.2L160.7,249.7L160.9,261.5L161.1,272.8L161.3,283.1L161.5,291.7L161.7,298.4L161.9,302.9L162.1,305.1M164.0,223.7L164.1,223.8L164.3,229.5L164.5,236.3L164.7,244.2L164.9,252.8L165.1,261.8L165.3,270.7L165.5,279.2L165.7,286.9L165.9,293.5L166.1,298.7L166.3,302.3L166.5,304.4L166.7,305.1M168.8,207.6L168.9,210.8L169.1,217.7L169.3,226.0L169.5,235.3L169.7,245.3L169.9,255.7L170.1,265.9L170.3,275.5L170.5,284.2L170.7,291.6L170.9,297.4L171.1,301.6L171.3,304.0L171.5,304.8M173.7,189.2L173.7,189.5L173.9,196.3L174.1,204.8L174.3,214.6L174.5,225.5L174.7,237.1L174.9,248.9L175.1,260.5L175.3,271.4L175.5,281.2L175.7,289.5L175.9,296.0L176.1,300.7L176.3,303.4L176.5,304.4M178.8,183.9L178.9,187.3L179.1,194.3L179.3,202.9L179.5,212.6L179.7,223.3L179.9,234.5L180.1,246.0L180.3,257.2L180.5,267.9L180.7,277.6L180.9,286.0L181.1,293.0L181.3,298.2L181.5,301.7L181.7,303.5M184.2,191.4L184.3,191.8L184.5,196.9L184.7,203.3L184.9,210.8L185.1,219.2L185.3,228.4L185.5,238.0L185.7,247.9L185.9,257.6L186.1,266.9L186.3,275.5L186.5,283.3L186.7,289.9L186.9,295.2L187.1,299.2L187.3,301.8L187.5,303.0M190.2,208.4L190.3,208.8L190.5,212.6L190.7,217.4L190.9,223.1L191.1,229.6L191.3,236.6L191.5,244.1L191.7,251.9L191.9,259.6L192.1,267.2L192.3,274.4L192.5,281.1L192.7,287.0L192.9,292.1L193.1,296.2L193.3,299.2L193.5,301.3L193.7,302.3M196.7,214.2L196.7,214.5L196.9,217.9L197.1,222.2L197.3,227.3L197.5,233.2L197.7,239.6L197.9,246.5L198.1,253.6L198.3,260.8L198.5,267.8L198.7,274.6L198.9,280.9L199.1,286.5L199.3,291.4L199.5,295.4L199.7,298.5L199.9,300.7L200.1,301.9M203.2,226.2L203.3,227.8L203.5,230.8L203.7,234.6L203.9,239.0L204.1,244.0L204.3,249.5L204.5,255.3L204.7,261.2L204.9,267.2L205.1,273.2L205.3,278.8L205.5,284.1L205.7,288.9L205.9,293.1L206.1,296.6L206.3,299.4L206.5,301.3L206.7,302.6L206.9,303.1M209.9,240.5L210.1,241.7L210.3,244.2L210.5,247.2L210.7,250.8L210.9,254.9L211.1,259.4L211.3,264.1L211.5,269.1L211.7,274.1L211.9,279.0L212.1,283.7L212.3,288.1L212.5,292.1L212.7,295.6L212.9,298.5L213.1,300.8L213.3,302.4L213.5,303.4L213.7,303.9M216.8,254.9L216.9,255.8L217.1,257.6L217.3,259.9L217.5,262.5L217.7,265.6L217.9,268.9L218.1,272.5L218.3,276.2L218.5,280.0L218.7,283.8L218.9,287.4L219.1,290.9L219.3,294.1L219.5,296.9L219.7,299.3L219.9,301.2L220.1,302.7L220.3,303.7L220.5,304.2M223.8,262.8L223.9,263.5L224.1,265.0L224.3,266.8L224.5,269.1L224.7,271.6L224.9,274.4L225.1,277.4L225.3,280.5L225.5,283.7L225.7,286.8L225.9,289.9L226.1,292.7L226.3,295.3L226.5,297.6L226.7,299.5L226.9,301.0L227.1,302.2L227.3,302.9M230.7,263.3L230.7,263.5L230.9,264.7L231.1,266.2L231.3,268.2L231.5,270.5L231.7,273.1L231.9,276.0L232.1,279.0L232.3,282.0L232.5,285.1L232.7,288.1L232.9,291.0L233.1,293.6L233.3,295.9L233.5,297.9L233.7,299.6L233.9,300.8L234.1,301.6M237.4,264.8L237.5,265.0L237.7,266.0L237.9,267.6L238.1,269.5L238.3,271.8L238.5,274.4L238.7,277.2L238.9,280.2L239.1,283.2L239.3,286.3L239.5,289.2L239.7,291.9L239.9,294.3L240.1,296.5L240.3,298.2L240.5,299.5L240.7,300.4L240.9,300.9M243.9,266.9L244.1,267.5L244.3,268.7L244.5,270.3L244.7,272.3L244.9,274.6L245.1,277.1L245.3,279.9L245.5,282.7L245.7,285.5L245.9,288.3L246.1,290.9L246.3,293.3L246.5,295.5L246.7,297.2L246.9,298.6L247.1,299.6L247.3,300.1M250.3,269.4L250.5,269.9L250.7,271.0L250.9,272.4L251.1,274.2L251.3,276.3L251.5,278.7L251.7,281.2L251.9,283.8L252.1,286.5L252.3,289.0L252.5,291.4L252.7,293.6L252.9,295.5L253.1,297.1L253.3,298.3L253.5,299.1L253.7,299.5M256.7,273.2L256.7,273.4L256.9,274.1L257.1,275.3L257.3,276.9L257.5,278.8L257.7,281.0L257.9,283.4L258.1,285.9L258.3,288.3L258.5,290.7L258.7,292.9L258.9,294.9L259.1,296.6L259.3,297.8L259.5,298.7L259.7,299.2M262.5,275.4L262.5,275.5L262.7,276.2L262.9,277.3L263.1,278.8L263.3,280.6L263.5,282.7L263.7,284.9L263.9,287.3L264.1,289.6L264.3,291.8L264.5,293.8L264.7,295.6L264.9,297.0L265.1,298.0L265.3,298.7M268.1,278.4L268.3,279.0L268.5,279.9L268.7,281.2L268.9,282.8L269.1,284.6L269.3,286.5L269.5,288.5L269.7,290.5L269.9,292.5L270.1,294.2L270.3,295.8L270.5,297.0L270.7,297.9L270.9,298.5M273.7,282.3L273.9,282.7L274.1,283.5L274.3,284.7L274.5,286.0L274.7,287.6L274.9,289.3L275.1,291.1L275.3,292.8L275.5,294.4L275.7,295.8L275.9,297.0L276.1,297.9L276.3,298.5M279.1,284.2L279.3,284.9L279.5,285.8L279.7,287.0L279.9,288.4L280.1,290.0L280.3,291.6L280.5,293.2L280.7,294.8L280.9,296.1L281.1,297.3L281.3,298.2L281.5,298.7M284.1,286.9L284.3,287.3L284.5,288.1L284.7,289.1L284.9,290.4L285.1,291.9L285.3,293.4L285.5,294.9L285.7,296.3L285.9,297.6L286.1,298.6L286.3,299.3L286.5,299.8M288.9,289.9L289.1,290.4L289.3,291.2L289.5,292.2L289.7,293.4L289.9,294.7L290.1,296.0L290.3,297.2L290.5,298.3L290.7,299.3L290.9,300.0L291.1,300.4M293.5,292.0L293.7,292.5L293.9,293.2L294.1,294.2L294.3,295.3L294.5,296.5L294.7,297.7L294.9,298.8L295.1,299.8L295.3,300.6L295.5,301.1M297.9,293.9L298.1,294.3L298.3,294.9L298.5,295.8L298.7,296.7L298.9,297.7L299.1,298.8L299.3,299.7L299.5,300.6L299.7,301.2L299.9,301.7M302.3,295.8L302.5,296.2L302.7,296.8L302.9,297.6L303.1,298.5L303.3,299.4L303.5,300.3L303.7,301.1L303.9,301.7L304.1,302.1M306.5,297.6L306.7,298.2L306.9,299.0L307.1,299.8L307.3,300.6L307.5,301.3L307.7,301.9L307.9,302.4M310.1,298.4L310.3,298.8L310.5,299.4L310.7,300.1L310.9,300.9L311.1,301.6L311.3,302.2L311.5,302.6M313.7,299.2L313.9,299.6L314.1,300.2L314.3,300.9L314.5,301.5L314.7,302.2L314.9,302.7M317.3,300.2L317.5,300.7L317.7,301.3L317.9,301.9L318.1,302.4M320.7,300.9L320.9,301.3L321.1,301.8L321.3,302.3" stroke-width="0.6"/>
<path d="M155.5,375.5L155.6,375.5L155.8,380.7L156.0,386.9L156.2,394.0L156.4,401.7L156.6,409.6L156.8,417.4L157.0,424.7L157.2,431.2L157.4,436.6L157.6,440.7L157.8,443.3L158.0,444.6M160.0,370.8L160.2,373.6L160.4,380.2L160.6,387.9L160.8,396.4L161.0,405.4L161.2,414.4L161.4,422.9L161.6,430.5L161.8,436.8L162.0,441.5L162.2,444.5L162.4,445.9M164.3,388.8L164.4,389.0L164.6,393.1L164.8,398.1L165.0,403.9L165.2,410.3L165.4,416.8L165.6,423.1L165.8,429.1L166.0,434.2L166.2,438.4L166.4,441.4L166.6,443.3L166.8,444.1M168.8,378.9L168.8,379.1L169.0,383.3L169.2,388.5L169.4,394.7L169.6,401.6L169.8,408.9L170.0,416.3L170.2,423.6L170.4,430.3L170.6,436.3L170.8,441.3L171.0,445.1L171.2,447.6L171.4,448.8M173.7,368.7L173.8,371.2L174.0,376.5L174.2,382.9L174.4,390.2L174.6,398.2L174.8,406.6L175.0,415.0L175.2,423.2L175.4,430.7L175.6,437.2L175.8,442.6L176.0,446.7L176.2,449.4L176.4,450.8M178.8,362.0L178.8,362.4L179.0,366.8L179.2,372.5L179.4,379.2L179.6,386.8L179.8,395.0L180.0,403.6L180.2,412.2L180.4,420.5L180.6,428.2L180.8,435.2L181.0,441.1L181.2,445.7L181.4,449.0L181.6,451.1L181.8,451.9M184.2,374.5L184.4,376.5L184.6,380.7L184.8,385.8L185.0,391.9L185.2,398.6L185.4,405.8L185.6,413.2L185.8,420.5L186.0,427.6L186.2,434.1L186.4,439.9L186.6,444.7L186.8,448.4L187.0,451.1L187.2,452.6L187.4,453.1M189.8,385.5L190.0,387.2L190.2,390.7L190.4,395.0L190.6,400.2L190.8,406.0L191.0,412.2L191.2,418.6L191.4,425.1L191.6,431.3L191.8,437.2L192.0,442.4L192.2,446.8L192.4,450.4L192.6,453.0L192.8,454.6L193.0,455.3M195.5,393.5L195.6,393.8L195.8,396.2L196.0,399.4L196.2,403.3L196.4,407.9L196.6,412.9L196.8,418.4L197.0,424.0L197.2,429.6L197.4,435.1L197.6,440.3L197.8,445.0L198.0,449.1L198.2,452.5L198.4,455.1L198.6,457.0L198.8,458.0M201.7,407.6L201.8,408.6L202.0,410.6L202.2,413.2L202.4,416.4L202.6,419.9L202.8,423.9L203.0,428.1L203.2,432.4L203.4,436.8L203.6,441.1L203.8,445.1L204.0,448.9L204.2,452.2L204.4,455.1L204.6,457.4L204.8,459.0L205.0,460.1L205.2,460.7M208.2,421.7L208.2,421.9L208.4,423.2L208.6,424.9L208.8,427.0L209.0,429.5L209.2,432.4L209.4,435.5L209.6,438.8L209.8,442.1L210.0,445.5L210.2,448.7L210.4,451.8L210.6,454.6L210.8,457.1L211.0,459.2L211.2,460.9L211.4,462.1L211.6,462.8M214.8,435.5L214.8,435.6L215.0,436.4L215.2,437.4L215.4,438.8L215.6,440.4L215.8,442.3L216.0,444.3L216.2,446.4L216.4,448.7L216.6,451.0L216.8,453.2L217.0,455.4L217.2,457.4L217.4,459.3L217.6,460.9L217.8,462.3L218.0,463.4L218.2,464.2L218.4,464.7M221.8,443.9L222.0,444.4L222.2,445.2L222.4,446.2L222.6,447.4L222.8,448.8L223.0,450.4L223.2,452.0L223.4,453.7L223.6,455.5L223.8,457.2L224.0,458.9L224.2,460.5L224.4,461.9L224.6,463.2L224.8,464.3L225.0,465.1L225.2,465.8M228.8,448.1L229.0,448.5L229.2,449.2L229.4,450.1L229.6,451.2L229.8,452.4L230.0,453.7L230.2,455.2L230.4,456.7L230.6,458.3L230.8,459.8L231.0,461.3L231.2,462.7L231.4,463.9L231.6,465.0L231.8,465.9L232.0,466.6L232.2,467.1M235.8,450.6L236.0,451.2L236.2,451.9L236.4,452.9L236.6,454.1L236.8,455.4L237.0,456.8L237.2,458.3L237.4,459.9L237.6,461.4L237.8,462.8L238.0,464.2L238.2,465.4L238.4,466.4L238.6,467.2L238.8,467.9M242.4,454.6L242.6,455.1L242.8,455.9L243.0,456.7L243.2,457.8L243.4,458.9L243.6,460.1L243.8,461.4L244.0,462.6L244.2,463.9L244.4,465.0L244.6,466.1L244.8,467.1L245.0,467.8L245.2,468.4L245.4,468.9M249.0,458.3L249.2,458.8L249.4,459.5L249.6,460.3L249.8,461.3L250.0,462.3L250.2,463.4L250.4,464.4L250.6,465.5L250.8,466.5L251.0,467.4L251.2,468.2L251.4,468.8L251.6,469.3M255.2,461.2L255.4,461.6L255.6,462.2L255.8,462.8L256.0,463.5L256.2,464.3L256.4,465.2L256.6,466.0L256.8,466.9L257.0,467.6L257.2,468.3L257.4,469.0L257.6,469.5M261.6,463.2L261.8,463.7L262.0,464.3L262.2,464.9L262.4,465.6L262.6,466.3L262.8,467.0L263.0,467.7L263.2,468.3L263.4,468.9L263.6,469.3M267.4,463.7L267.6,464.2L267.8,464.7L268.0,465.3L268.2,465.9L268.4,466.5L268.6,467.0L268.8,467.5L269.0,468.0M272.4,464.9L272.6,465.4L272.8,466.0L273.0,466.7L273.2,467.4L273.4,468.2L273.6,468.9L273.8,469.6L274.0,470.2L274.2,470.7M277.8,468.6L278.0,469.0L278.2,469.5L278.4,470.0L278.6,470.5L278.8,471.0L279.0,471.4L279.2,471.8M283.4,470.3L283.6,470.7L283.8,471.2L284.0,471.6L284.2,472.1" stroke-width="0.6"/>
<path d="M153.3,491.8L153.4,491.9L153.6,499.1L153.8,507.7L154.0,517.4L154.2,528.0L154.4,538.9L154.6,549.9L154.8,560.5L155.0,570.2L155.2,578.8L155.4,585.9L155.6,591.4L155.8,595.2L156.0,597.3L156.2,598.0M158.4,468.4L158.6,473.9L158.8,486.2L159.0,500.9L159.2,517.0L159.4,533.6L159.6,549.6L159.8,564.0L160.0,575.8L160.2,584.7L160.4,590.2L160.6,592.7M162.4,489.5L162.6,492.6L162.8,499.4L163.0,507.3L163.2,516.2L163.4,525.7L163.6,535.5L163.8,545.2L164.0,554.4L164.2,563.0L164.4,570.4L164.6,576.6L164.8,581.4L165.0,584.7L165.2,586.7L165.4,587.5M167.8,521.8L167.8,522.1L168.0,526.0L168.2,531.0L168.4,536.7L168.6,543.1L168.8,550.0L169.0,557.2L169.2,564.3L169.4,571.2L169.6,577.5L169.8,583.1L170.0,587.8L170.2,591.5L170.4,594.1L170.6,595.7L170.8,596.5M173.2,500.4L173.4,503.1L173.6,508.6L173.8,515.2L174.0,522.7L174.2,531.0L174.4,539.7L174.6,548.7L174.8,557.6L175.0,566.2L175.2,574.2L175.4,581.4L175.6,587.6L175.8,592.6L176.0,596.4L176.2,599.0L176.4,600.5L176.6,601.0M179.2,485.6L179.4,488.7L179.6,494.7L179.8,501.8L180.0,510.1L180.2,519.1L180.4,528.7L180.6,538.7L180.8,548.6L181.0,558.3L181.2,567.5L181.4,575.8L181.6,583.1L181.8,589.2L182.0,594.0L182.2,597.5L182.4,599.8L182.6,600.8M185.4,491.6L185.6,494.4L185.8,499.7L186.0,506.1L186.2,513.5L186.4,521.7L186.6,530.4L186.8,539.5L187.0,548.8L187.2,557.8L187.4,566.4L187.6,574.4L187.8,581.5L188.0,587.6L188.2,592.6L188.4,596.4L188.6,599.0L188.8,600.4L189.0,601.0M191.8,506.0L192.0,508.2L192.2,512.3L192.4,517.2L192.6,523.0L192.8,529.3L193.0,536.2L193.2,543.5L193.4,550.9L193.6,558.4L193.8,565.6L194.0,572.5L194.2,578.9L194.4,584.6L194.6,589.5L194.8,593.6L195.0,596.8L195.2,599.1L195.4,600.5L195.6,601.1M198.8,514.9L198.8,515.4L199.0,518.2L199.2,521.8L199.4,526.1L199.6,531.0L199.8,536.3L200.0,542.1L200.2,548.2L200.4,554.4L200.6,560.7L200.8,566.9L201.0,572.8L201.2,578.4L201.4,583.6L201.6,588.1L201.8,592.1L202.0,595.4L202.2,598.0L202.4,599.8L202.6,601.0L202.8,601.6M206.2,527.3L206.4,528.9L206.6,531.6L206.8,534.9L207.0,538.9L207.2,543.3L207.4,548.1L207.6,553.3L207.8,558.6L208.0,564.1L208.2,569.5L208.4,574.9L208.6,579.9L208.8,584.6L209.0,588.9L209.2,592.7L209.4,595.9L209.6,598.5L209.8,600.5L210.0,601.9L210.2,602.6M213.8,544.1L213.8,544.5L214.0,546.4L214.2,548.9L214.4,551.9L214.6,555.5L214.8,559.4L215.0,563.6L215.2,568.1L215.4,572.6L215.6,577.2L215.8,581.7L216.0,586.0L216.2,590.0L216.4,593.6L216.6,596.8L216.8,599.5L217.0,601.6L217.2,603.1L217.4,604.2L217.6,604.7M220.9,559.1L221.0,559.4L221.2,560.7L221.4,562.5L221.6,564.8L221.8,567.3L222.0,570.2L222.2,573.3L222.4,576.7L222.6,580.1L222.8,583.5L223.0,586.9L223.2,590.2L223.4,593.3L223.6,596.1L223.8,598.6L224.0,600.7L224.2,602.5L224.4,603.8L224.6,604.8L224.8,605.4M228.3,566.6L228.4,566.9L228.6,568.1L228.8,569.8L229.0,571.8L229.2,574.2L229.4,576.9L229.6,579.9L229.8,582.9L230.0,586.0L230.2,589.1L230.4,592.1L230.6,594.9L230.8,597.4L231.0,599.6L231.2,601.5L231.4,602.9L231.6,604.0L231.8,604.6M235.2,568.7L235.2,568.9L235.4,570.0L235.6,571.4L235.8,573.2L236.0,575.3L236.2,577.7L236.4,580.3L236.6,583.0L236.8,585.8L237.0,588.6L237.2,591.4L237.4,593.9L237.6,596.3L237.8,598.4L238.0,600.3L238.2,601.7L238.4,602.9L238.6,603.6L238.8,604.1M242.2,570.1L242.2,570.4L242.4,571.3L242.6,572.7L242.8,574.4L243.0,576.5L243.2,578.8L243.4,581.3L243.6,584.0L243.8,586.7L244.0,589.4L244.2,592.0L244.4,594.5L244.6,596.7L244.8,598.7L245.0,600.3L245.2,601.6L245.4,602.6L245.6,603.2M248.9,571.7L249.0,571.9L249.2,572.8L249.4,574.2L249.6,575.9L249.8,577.9L250.0,580.3L250.2,582.8L250.4,585.4L250.6,588.1L250.8,590.8L251.0,593.3L251.2,595.7L251.4,597.8L251.6,599.5L251.8,601.0L252.0,602.0L252.2,602.7M255.4,576.1L255.6,576.6L255.8,577.6L256.0,578.9L256.2,580.5L256.4,582.3L256.6,584.4L256.8,586.6L257.0,588.9L257.2,591.2L257.4,593.5L257.6,595.6L257.8,597.5L258.0,599.2L258.2,600.6L258.4,601.7L258.6,602.4L258.8,602.9M262.0,580.4L262.0,580.5L262.2,581.2L262.4,582.2L262.6,583.5L262.8,585.1L263.0,587.0L263.2,588.9L263.4,591.0L263.6,593.1L263.8,595.1L264.0,597.0L264.2,598.7L264.4,600.1L264.6,601.3L264.8,602.1L265.0,602.7M268.1,582.7L268.2,583.1L268.4,583.9L268.6,585.0L268.8,586.3L269.0,588.0L269.2,589.7L269.4,591.6L269.6,593.6L269.8,595.5L270.0,597.3L270.2,598.9L270.4,600.3L270.6,601.4L270.8,602.2L271.0,602.7M274.0,585.3L274.2,585.8L274.4,586.6L274.6,587.7L274.8,589.0L275.0,590.5L275.2,592.1L275.4,593.8L275.6,595.5L275.8,597.1L276.0,598.6L276.2,600.0L276.4,601.1L276.6,602.0L276.8,602.6M280.1,588.1L280.3,588.7L280.5,589.6L280.7,590.7L280.9,592.0L281.1,593.4L281.3,594.9L281.5,596.4L281.7,597.9L281.9,599.3L282.1,600.5L282.3,601.5L282.5,602.2L282.7,602.7M285.7,591.4L285.9,591.9L286.1,592.6L286.3,593.6L286.5,594.8L286.7,596.0L286.9,597.3L287.1,598.6L287.3,599.8L287.5,600.9L287.7,601.9L287.9,602.6L288.1,603.1M291.1,594.1L291.3,594.7L291.5,595.5L291.7,596.5L291.9,597.6L292.1,598.7L292.3,599.8L292.5,600.9L292.7,601.9L292.9,602.7L293.1,603.3L293.3,603.8M296.1,596.5L296.3,597.2L296.5,598.0L296.7,598.9L296.9,600.0L297.1,601.1L297.3,602.1L297.5,603.1L297.7,603.9L297.9,604.5M300.5,598.0L300.7,598.5L300.9,599.2L301.1,600.0L301.3,601.0L301.5,602.1L301.7,603.1L301.9,604.1L302.1,604.9L302.3,605.5L302.5,606.0M304.9,600.2L305.1,600.6L305.3,601.2L305.5,602.0L305.7,602.8L305.9,603.8L306.1,604.7L306.3,605.5L306.5,606.3L306.7,606.9M309.5,603.7L309.7,604.2L309.9,604.9L310.1,605.6L310.3,606.3L310.5,607.1L310.7,607.7L310.9,608.2M313.5,605.8L313.7,606.2L313.9,606.7L314.1,607.3L314.3,607.9L314.5,608.5L314.7,609.0L314.9,609.4M317.9,607.8L318.1,608.2L318.3,608.7L318.5,609.1L318.7,609.6M322.1,608.6L322.3,609.0L322.5,609.4" stroke-width="0.6"/>
<polyline points="129.6,500.0 130.0,470.0 130.2,447.0 130.5,470.0 130.8,500.0" stroke-width="0.6"/>
</g>
<rect x="125.1" y="8.8" width="2.0" height="146" fill="#000"/>
<polygon points="126.4,205 127.9,205 127.9,352 126.4,352" fill="#909090"/>
<polygon points="127.3,205 128.05,205 128.05,242 127.6,242" fill="#222"/>
<polygon points="125.1,154 128.05,154 128.05,205 126.6,213 126.6,338 128.05,392 128.05,462 129.0,470 130.4,478 130.9,486 130.9,529 128.5,529 128.4,488 127.6,481 126.2,473 125.1,464" fill="#000"/>
<g stroke="#000" stroke-width="1.3" fill="none">
<line x1="115.6" y1="8.8" x2="115.6" y2="629.6"/>
<line x1="115" y1="624.3" x2="561.2" y2="624.3"/>
<line x1="179.2" y1="624" x2="179.2" y2="629.6"/>
<line x1="242.7" y1="624" x2="242.7" y2="629.6"/>
<line x1="306.3" y1="624" x2="306.3" y2="629.6"/>
<line x1="369.9" y1="624" x2="369.9" y2="629.6"/>
<line x1="433.5" y1="624" x2="433.5" y2="629.6"/>
<line x1="497.0" y1="624" x2="497.0" y2="629.6"/>
<line x1="560.6" y1="624" x2="560.6" y2="629.6"/>
</g>
<g stroke="#000" fill="none">
<line x1="154.5" y1="49" x2="154.5" y2="61" stroke-width="1.1"/>
<line x1="178.5" y1="28.7" x2="178.5" y2="40.6" stroke-width="1.1"/>
<line x1="209.9" y1="99.9" x2="209.9" y2="111.8" stroke-width="0.8" stroke="#555"/>
<line x1="244.2" y1="130.6" x2="244.2" y2="141.5" stroke-width="0.8" stroke="#555"/>
</g>
<g font-family="'Liberation Sans', sans-serif" fill="#000">
<g font-size="12.2" text-anchor="middle">
<text x="154.4" y="45.6">5</text>
<text x="178.6" y="25.8">10</text>
<text x="210.2" y="96.9">15</text>
<text x="244.2" y="126.9">20</text>
</g>
<g font-size="13.85" text-anchor="end">
<text x="561.2" y="144.7" letter-spacing="0.1">July, 5 a.m.</text>
<text x="561.2" y="296.8" letter-spacing="0.1">July, 5 p.m.</text>
<text x="561.2" y="460.5">August, 5 a.m.</text>
<text x="561.2" y="599.2">August, 5 p.m.</text>
</g>
<g font-size="13.85" text-anchor="middle">
<text x="115.6" y="647.6">0</text>
<text x="179.2" y="647.6">10</text>
<text x="242.7" y="647.6">20</text>
<text x="306.3" y="647.6">30</text>
<text x="369.9" y="647.6">40</text>
<text x="433.5" y="647.6">50</text>
<text x="497.0" y="647.6">60</text>
<text x="560.6" y="647.6">70</text>
<text x="338.5" y="661.0">Retention time (min)</text>
<text transform="translate(111.2,316.3) rotate(-90)">Detector response</text>
</g>
</g>
</svg>
<div class="cap">
<div style="left:6.0px;top:694.5px;word-spacing:0.34px;">Fig. 3. almidón transitorio extraído con dimetilsulfóxido e hidrolizado con isoamilasa y analizada</div>
<div style="left:3.6px;top:714.2px;word-spacing:0.2px;">con cromatografía de intercambio aniónico. (a) Muestra de julio 5:00 a.m. (b) Muestra de julio</div>
<div style="left:3.2px;top:734.0px;word-spacing:0.05px;">5:00 p.m. (c) Muestra de agosto 5:00 a.m. (d) Muestra de agosto 5:00 p.m. DP se encuentra indicado.</div>
</div>
</body></html>
